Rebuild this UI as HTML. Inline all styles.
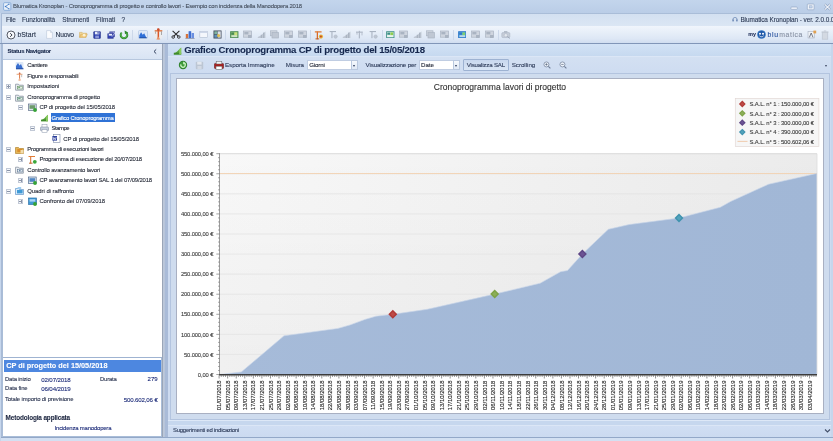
<!DOCTYPE html>
<html><head><meta charset="utf-8"><title>Blumatica Kronoplan</title>
<style>
html,body{margin:0;padding:0;width:833px;height:441px;overflow:hidden;background:#cbdaee}
body{font-family:"Liberation Sans",sans-serif;position:relative}
.r{position:absolute;display:block}
.i{filter:blur(0.35px)}
.t{position:absolute;white-space:nowrap;line-height:1.17;font-family:"Liberation Sans",sans-serif;-webkit-text-stroke-width:0.1px}
</style></head><body><div id="w" style="position:absolute;left:0;top:0;width:833px;height:441px;will-change:transform">
<div class="r" style="left:0.00px;top:0.00px;width:833.00px;height:441.00px;background:#cbdaee;"></div>
<div class="r" style="left:0.00px;top:0.00px;width:833.00px;height:13.00px;background:linear-gradient(#c3d5ec,#bacde7);"></div>
<div class="r" style="left:0.00px;top:13.00px;width:833.00px;height:13.00px;background:linear-gradient(#d3e0f1,#dbe6f4);border-top:1px solid #a9bdd8;box-sizing:border-box;"></div>
<div class="r" style="left:0.00px;top:26.00px;width:833.00px;height:17.00px;background:linear-gradient(#f0f5fc 0%,#e6eef8 40%,#dde7f5 75%,#d0ddf0 100%);"></div>
<div class="r" style="left:0.00px;top:43.00px;width:833.00px;height:398.00px;background:#c9d9ee;"></div>
<div class="t" style="left:13.00px;top:3px;font-size:5.94px;line-height:6px;color:#46505f;letter-spacing:-0.201px;">Blumatica Kronoplan - Cronoprogramma di progetto e controllo lavori - Esempio con incidenza della Manodopera 2018</div>
<div class="t" style="left:6.00px;top:16px;font-size:6.47px;line-height:7px;color:#2c3a55;letter-spacing:-0.206px;">File</div>
<div class="t" style="left:21.90px;top:16px;font-size:6.47px;line-height:7px;color:#2c3a55;letter-spacing:-0.149px;">Funzionalità</div>
<div class="t" style="left:62.30px;top:16px;font-size:6.47px;line-height:7px;color:#2c3a55;letter-spacing:-0.087px;">Strumenti</div>
<div class="t" style="left:96.00px;top:16px;font-size:6.47px;line-height:7px;color:#2c3a55;letter-spacing:0.050px;">Filmati</div>
<div class="t" style="left:121.50px;top:16px;font-size:6.47px;line-height:7px;color:#2c3a55;letter-spacing:-0.598px;">?</div>
<div class="t" style="left:740.40px;top:16px;font-size:6.40px;line-height:7px;color:#2c3a55;letter-spacing:-0.068px;">Blumatica Kronoplan - ver. 2.0.0.0</div>
<div class="t" style="left:17.40px;top:31px;font-size:6.89px;line-height:7px;color:#1f2c44;letter-spacing:0.036px;">bStart</div>
<div class="t" style="left:55.50px;top:31px;font-size:6.68px;line-height:7px;color:#1f2c44;letter-spacing:-0.182px;">Nuovo</div>
<div class="r" style="left:2.00px;top:43.00px;width:160.00px;height:394.00px;background:#dfe8f5;border:1px solid #a9bdd8;box-sizing:border-box;"></div>
<div class="r" style="left:3.00px;top:43.60px;width:158.80px;height:15.00px;background:linear-gradient(#e6edf8,#d9e4f4);"></div>
<div class="t" style="left:7.50px;top:48px;font-size:6.04px;line-height:6px;color:#1a2a4c;letter-spacing:-0.281px;font-weight:bold;">Status Navigator</div>
<svg class="r" style="left:152px;top:47.5px" width="6" height="7" viewBox="0 0 6 7"><path d="M4.2 1.4L2 3.5 4.2 5.6" stroke="#2f3d5c" stroke-width="1" fill="none"/></svg>
<div class="r" style="left:3.00px;top:58.60px;width:158.80px;height:299.40px;background:#ffffff;border-top:0.7px solid #b7c7de;border-bottom:1px solid #9fb3d1;box-sizing:border-box;"></div>
<div class="r" style="left:3.00px;top:358.00px;width:158.00px;height:78.00px;background:#ffffff;"></div>
<div class="r" style="left:4.00px;top:360.00px;width:156.60px;height:11.60px;background:#4d87e0;"></div>
<div class="t" style="left:6.20px;top:361px;font-size:7.31px;line-height:9px;color:#ffffff;font-weight:bold;">CP di progetto del 15/05/2018</div>
<div class="t" style="left:5.00px;top:376px;font-size:5.94px;line-height:6px;color:#2a3450;letter-spacing:-0.203px;">Data inizio</div>
<div class="t" style="left:41.20px;top:376px;font-size:6.15px;line-height:7px;color:#1b2a78;letter-spacing:-0.128px;">02/07/2018</div>
<div class="t" style="left:100.00px;top:376px;font-size:5.94px;line-height:6px;color:#2a3450;letter-spacing:-0.188px;">Durata</div>
<div class="t" style="left:147.62px;top:376px;font-size:6.04px;line-height:6px;color:#1b2a78;">279</div>
<div class="t" style="left:5.00px;top:385px;font-size:5.94px;line-height:6px;color:#2a3450;letter-spacing:-0.142px;">Data fine</div>
<div class="t" style="left:41.20px;top:385px;font-size:6.15px;line-height:7px;color:#1b2a78;letter-spacing:-0.128px;">06/04/2019</div>
<div class="t" style="left:5.00px;top:396px;font-size:5.94px;line-height:6px;color:#2a3450;letter-spacing:-0.140px;">Totale importo di previsione</div>
<div class="t" style="left:123.70px;top:396px;font-size:6.15px;line-height:7px;color:#1b2a78;letter-spacing:-0.159px;">500.602,06 €</div>
<div class="t" style="left:5.60px;top:414px;font-size:6.36px;line-height:7px;color:#1d2640;letter-spacing:-0.114px;font-weight:bold;">Metodologia applicata</div>
<div class="t" style="left:54.60px;top:425px;font-size:5.94px;line-height:6px;color:#1b2a78;letter-spacing:-0.187px;">Incidenza manodopera</div>
<svg class="r i" style="left:14.90px;top:61.10px" width="9" height="9" viewBox="0 0 9 9"><rect x="0.5" y="1" width="8" height="7" rx="1" fill="#dfe9f7"/><path d="M1 8V5l2-3 1.5 2.5L6 3l2 5z" fill="#3a6fd0"/><rect x="1" y="7.3" width="7.5" height="1" fill="#284f9e"/></svg>
<div class="t" style="left:27.30px;top:62px;font-size:5.94px;line-height:6px;color:#262b38;letter-spacing:-0.282px;">Cantiere</div>
<svg class="r i" style="left:14.90px;top:71.50px" width="9" height="9" viewBox="0 0 9 9"><rect x="4.1" y="0.8" width="1" height="7.6" fill="#dc7a48"/><rect x="1.6" y="1.8" width="5.8" height="0.9" fill="#e79a6a"/><circle cx="4.6" cy="1.3" r="0.9" fill="#cf6a4a"/><path d="M3 8.6l1.6-2.6 1.6 2.6z" fill="#efb898"/><rect x="6.5" y="2.6" width="0.6" height="2.6" fill="#9a9a9a"/></svg>
<div class="t" style="left:27.30px;top:73px;font-size:5.94px;line-height:6px;color:#262b38;letter-spacing:-0.188px;">Figure e responsabili</div>
<div class="r" style="left:6.10px;top:84.20px;width:5px;height:5px;border:0.7px solid #c2c9d6;box-sizing:border-box;background:#f6f8fb"></div>
<div class="r" style="left:7.20px;top:86.40px;width:2.8px;height:0.6px;background:#8a94a8"></div>
<div class="r" style="left:8.30px;top:85.30px;width:0.6px;height:2.8px;background:#8a94a8"></div>
<svg class="r i" style="left:14.90px;top:82.00px" width="9" height="9" viewBox="0 0 9 9"><path d="M0.6 2.2h2.8l0.9 1h4v5h-7.7z" fill="#f3f5f8" stroke="#6e7a8c" stroke-width="0.65"/><rect x="2.6" y="4.2" width="4.6" height="2.8" fill="#f7f9fb" stroke="#5d8a5a" stroke-width="0.6"/><rect x="3.2" y="4.8" width="2" height="1" fill="#5a9a58"/></svg>
<div class="t" style="left:27.30px;top:83px;font-size:5.94px;line-height:6px;color:#262b38;letter-spacing:-0.137px;">Impostazioni</div>
<div class="r" style="left:6.10px;top:94.70px;width:5px;height:5px;border:0.7px solid #c2c9d6;box-sizing:border-box;background:#f6f8fb"></div>
<div class="r" style="left:7.20px;top:96.90px;width:2.8px;height:0.6px;background:#8a94a8"></div>
<svg class="r i" style="left:14.90px;top:92.50px" width="9" height="9" viewBox="0 0 9 9"><path d="M0.6 2.2h2.8l0.9 1h4v5h-7.7z" fill="#f3f5f8" stroke="#6e7a8c" stroke-width="0.65"/><rect x="2.6" y="4.2" width="4.6" height="2.8" fill="#f7f9fb" stroke="#4f7f6a" stroke-width="0.6"/><rect x="3.2" y="4.8" width="2.4" height="1" fill="#4a8a66"/></svg>
<div class="t" style="left:27.30px;top:94px;font-size:5.94px;line-height:6px;color:#262b38;letter-spacing:-0.137px;">Cronoprogramma di progetto</div>
<div class="r" style="left:18.30px;top:105.20px;width:5px;height:5px;border:0.7px solid #c2c9d6;box-sizing:border-box;background:#f6f8fb"></div>
<div class="r" style="left:19.40px;top:107.40px;width:2.8px;height:0.6px;background:#8a94a8"></div>
<svg class="r i" style="left:27.70px;top:103.00px" width="9" height="9" viewBox="0 0 9 9"><rect x="0.6" y="1" width="7.6" height="6.4" fill="#dfe7ef" stroke="#5e7088" stroke-width="0.7"/><rect x="1.5" y="2.2" width="5.6" height="3.6" fill="#6e9a6c"/><circle cx="7" cy="7" r="1.9" fill="#35a335"/></svg>
<div class="t" style="left:39.40px;top:104px;font-size:5.94px;line-height:6px;color:#262b38;letter-spacing:-0.111px;">CP di progetto del 15/05/2018</div>
<svg class="r i" style="left:39.50px;top:113.40px" width="9" height="9" viewBox="-0.8 -1.2 10.6 10.6"><path d="M0.5 8.5h8V1L6 3.3 4.4 5 2.6 6.3 0.5 7.6z" fill="#5aa63c"/><path d="M0.5 8.5h8V6.5H0.5z" fill="#3f8a2c"/><path d="M6.3 2.8l2.2-2V8.5H6.3z" fill="#8acb5e"/></svg>
<div class="r" style="left:50.60px;top:113.20px;width:64.20px;height:9.20px;background:#2f72d6;"></div>
<div class="t" style="left:51.60px;top:115px;font-size:5.94px;line-height:6px;color:#ffffff;letter-spacing:-0.247px;">Grafico Cronoprogramma</div>
<div class="r" style="left:30.10px;top:126.20px;width:5px;height:5px;border:0.7px solid #c2c9d6;box-sizing:border-box;background:#f6f8fb"></div>
<div class="r" style="left:31.20px;top:128.40px;width:2.8px;height:0.6px;background:#8a94a8"></div>
<svg class="r i" style="left:39.50px;top:124.00px" width="9" height="9" viewBox="0 0 9 9"><rect x="2" y="0.6" width="5" height="3" fill="#fff" stroke="#8b97ab" stroke-width="0.5"/><rect x="0.5" y="3" width="8" height="3.8" rx="0.8" fill="#c7d1df" stroke="#75839b" stroke-width="0.5"/><rect x="2" y="5.6" width="5" height="2.8" fill="#fff" stroke="#8b97ab" stroke-width="0.5"/></svg>
<div class="t" style="left:51.60px;top:125px;font-size:5.94px;line-height:6px;color:#262b38;letter-spacing:-0.512px;">Stampe</div>
<svg class="r i" style="left:51.50px;top:134.30px" width="9" height="9" viewBox="0 0 9 9"><rect x="1.6" y="0.6" width="6.4" height="7.8" fill="#fff" stroke="#7a88a5" stroke-width="0.6"/><rect x="0.4" y="2" width="4.6" height="4.6" fill="#2b3f9c"/><path d="M1.1 3l0.7 2.8 0.8-2 0.8 2L4.2 3" stroke="#fff" stroke-width="0.6" fill="none"/></svg>
<div class="t" style="left:63.30px;top:136px;font-size:5.94px;line-height:6px;color:#262b38;letter-spacing:-0.108px;">CP di progetto del 15/05/2018</div>
<div class="r" style="left:6.10px;top:146.90px;width:5px;height:5px;border:0.7px solid #c2c9d6;box-sizing:border-box;background:#f6f8fb"></div>
<div class="r" style="left:7.20px;top:149.10px;width:2.8px;height:0.6px;background:#8a94a8"></div>
<svg class="r i" style="left:14.90px;top:144.70px" width="9" height="9" viewBox="0 0 9 9"><path d="M0.5 2.5h3l1 1h4v5h-8z" fill="#e6b657" stroke="#a97920" stroke-width="0.6"/><rect x="2.3" y="4" width="5" height="3" fill="#d98e2c"/><rect x="5.5" y="5" width="3" height="3.4" fill="#f2ddae"/></svg>
<div class="t" style="left:27.30px;top:146px;font-size:5.94px;line-height:6px;color:#262b38;letter-spacing:-0.222px;">Programma di esecuzioni lavori</div>
<div class="r" style="left:18.30px;top:157.20px;width:5px;height:5px;border:0.7px solid #c2c9d6;box-sizing:border-box;background:#f6f8fb"></div>
<div class="r" style="left:19.40px;top:159.40px;width:2.8px;height:0.6px;background:#8a94a8"></div>
<div class="r" style="left:20.50px;top:158.30px;width:0.6px;height:2.8px;background:#8a94a8"></div>
<svg class="r i" style="left:27.70px;top:155.00px" width="9" height="9" viewBox="0 0 9 9"><rect x="2.2" y="1.3" width="1" height="7.2" fill="#d86a28"/><rect x="0.5" y="1" width="6.5" height="1" fill="#e07b35"/><rect x="1" y="7.7" width="3.6" height="0.9" fill="#b85a20"/><circle cx="6.8" cy="6.8" r="1.9" fill="#3aa63a"/></svg>
<div class="t" style="left:39.40px;top:156px;font-size:5.94px;line-height:6px;color:#262b38;letter-spacing:-0.194px;">Programma di esecuzione del 20/07/2018</div>
<div class="r" style="left:6.10px;top:167.50px;width:5px;height:5px;border:0.7px solid #c2c9d6;box-sizing:border-box;background:#f6f8fb"></div>
<div class="r" style="left:7.20px;top:169.70px;width:2.8px;height:0.6px;background:#8a94a8"></div>
<svg class="r i" style="left:14.90px;top:165.30px" width="9" height="9" viewBox="0 0 9 9"><path d="M0.6 2.2h2.8l0.9 1h4v5h-7.7z" fill="#f3f5f8" stroke="#6e7a8c" stroke-width="0.65"/><rect x="2.6" y="4.2" width="4.6" height="2.8" fill="#eef3f8" stroke="#55708c" stroke-width="0.6"/><circle cx="4.8" cy="5.6" r="0.9" fill="#6a8aa8"/></svg>
<div class="t" style="left:27.30px;top:167px;font-size:5.94px;line-height:6px;color:#262b38;letter-spacing:-0.151px;">Controllo avanzamento lavori</div>
<div class="r" style="left:18.30px;top:177.90px;width:5px;height:5px;border:0.7px solid #c2c9d6;box-sizing:border-box;background:#f6f8fb"></div>
<div class="r" style="left:19.40px;top:180.10px;width:2.8px;height:0.6px;background:#8a94a8"></div>
<div class="r" style="left:20.50px;top:179.00px;width:0.6px;height:2.8px;background:#8a94a8"></div>
<svg class="r i" style="left:27.70px;top:175.70px" width="9" height="9" viewBox="0 0 9 9"><rect x="0.6" y="1" width="7.6" height="6.4" fill="#dfe7ef" stroke="#4d6a90" stroke-width="0.7"/><rect x="1.5" y="2.2" width="5.6" height="3.6" fill="#4f86c4"/><circle cx="7" cy="7" r="1.9" fill="#35a335"/></svg>
<div class="t" style="left:39.40px;top:177px;font-size:5.94px;line-height:6px;color:#262b38;letter-spacing:-0.173px;">CP avanzamento lavori SAL 1 del 07/09/2018</div>
<div class="r" style="left:6.10px;top:188.50px;width:5px;height:5px;border:0.7px solid #c2c9d6;box-sizing:border-box;background:#f6f8fb"></div>
<div class="r" style="left:7.20px;top:190.70px;width:2.8px;height:0.6px;background:#8a94a8"></div>
<svg class="r i" style="left:14.90px;top:186.30px" width="9" height="9" viewBox="0 0 9 9"><path d="M0.5 2.5h3l1 1h4v5h-8z" fill="#d9ebfa" stroke="#4a86c2" stroke-width="0.6"/><rect x="2" y="4" width="5.6" height="3.4" fill="#3f9ad6"/><rect x="2.6" y="1" width="3.6" height="2" fill="#9fcdf0"/></svg>
<div class="t" style="left:27.30px;top:188px;font-size:5.94px;line-height:6px;color:#262b38;letter-spacing:-0.056px;">Quadri di raffronto</div>
<div class="r" style="left:18.30px;top:198.90px;width:5px;height:5px;border:0.7px solid #c2c9d6;box-sizing:border-box;background:#f6f8fb"></div>
<div class="r" style="left:19.40px;top:201.10px;width:2.8px;height:0.6px;background:#8a94a8"></div>
<div class="r" style="left:20.50px;top:200.00px;width:0.6px;height:2.8px;background:#8a94a8"></div>
<svg class="r i" style="left:27.70px;top:196.70px" width="9" height="9" viewBox="0 0 9 9"><rect x="0.6" y="1" width="7.8" height="6.4" fill="#3f9ad6" stroke="#2a6fa8" stroke-width="0.7"/><rect x="1.6" y="2.2" width="5.6" height="2.4" fill="#a8d6f5"/><circle cx="7" cy="7" r="1.9" fill="#35a335"/></svg>
<div class="t" style="left:39.40px;top:198px;font-size:5.94px;line-height:6px;color:#262b38;letter-spacing:-0.060px;">Confronto del 07/09/2018</div>
<div class="r" style="left:161.80px;top:43.60px;width:6.20px;height:393.40px;background:linear-gradient(90deg,#9aa5b7 0%,#9aa5b7 17%,#bcc8da 22%,#bcc8da 40%,#a9bbd8 48%,#a9bbd8 100%);"></div>
<div class="r" style="left:168.00px;top:43.70px;width:665.00px;height:393.30px;background:#cddbf0;"></div>
<div class="r" style="left:168.00px;top:44.00px;width:665.00px;height:12.00px;background:linear-gradient(#d2e2f6,#c6d9f0);"></div>
<div class="r" style="left:168.00px;top:56.00px;width:665.00px;height:16.50px;background:linear-gradient(#d3e0f2,#cedcf1);border-top:0.6px solid #dbe6f6;box-sizing:border-box;"></div>
<svg class="r i" style="left:172.80px;top:46.10px" width="9" height="9" viewBox="-0.4 -0.8 9.8 9.8"><path d="M0.5 8.5h8V1L6 3.3 4.4 5 2.6 6.3 0.5 7.6z" fill="#5aa63c"/><path d="M0.5 8.5h8V6.5H0.5z" fill="#3f8a2c"/><path d="M6.3 2.8l2.2-2V8.5H6.3z" fill="#8acb5e"/></svg>
<div class="t" style="left:184.20px;top:44px;font-size:9.60px;line-height:11px;color:#16284e;letter-spacing:-0.239px;font-weight:bold;">Grafico Cronoprogramma CP di progetto del 15/05/2018</div>
<svg class="r i" style="left:178.30px;top:60.00px" width="10" height="10" viewBox="-5 -5 10 10"><circle r="4.2" fill="#2c7a2c"/><circle r="3.5" fill="#3f9a3a"/><path d="M-2.1 -0.6A2.2 2.2 0 1 0 1.2 -1.9" stroke="#c9f0c0" stroke-width="1.3" fill="none"/><path d="M0.2 -3.6L2.9 -1.7 0.1 -0.4z" fill="#c9f0c0"/></svg>
<svg class="r i" style="left:195.10px;top:60.50px" width="9" height="9" viewBox="0 0 9 9"><rect x="0.8" y="0.8" width="7.4" height="7.4" rx="0.8" fill="#bcc6d3"/><rect x="2.2" y="0.8" width="4.4" height="2.8" fill="#e3e8ef"/><rect x="2.4" y="5" width="4.2" height="3.2" fill="#d3dae4"/></svg>
<svg class="r i" style="left:213.50px;top:60.50px" width="10" height="9" viewBox="0 0 10 9"><rect x="0.5" y="2.4" width="9" height="5.2" rx="0.8" fill="#c42a2a" stroke="#5b1a1a" stroke-width="0.6"/><rect x="2.2" y="0.6" width="5.6" height="2.4" fill="#f3f3f3" stroke="#666" stroke-width="0.5"/><rect x="2" y="5.2" width="6" height="3.2" fill="#fff" stroke="#555" stroke-width="0.5"/><rect x="1" y="3.6" width="8" height="1" fill="#8b1a1a"/></svg>
<div class="t" style="left:225.00px;top:61px;font-size:6.25px;line-height:7px;color:#2c3a58;letter-spacing:-0.070px;">Esporta Immagine</div>
<div class="t" style="left:285.80px;top:61px;font-size:6.25px;line-height:7px;color:#2c3a58;letter-spacing:-0.126px;">Misura</div>
<div class="r" style="left:307.00px;top:60.30px;width:50.90px;height:10.00px;background:#ffffff;border:0.7px solid #c0cde2;box-sizing:border-box;"></div>
<div class="r" style="left:350.60px;top:60.30px;width:7.30px;height:10.00px;background:linear-gradient(#f6f9fd,#dfe8f5);border:0.7px solid #b9c8df;box-sizing:border-box;"></div>
<div class="r" style="left:352.65px;top:64.6px;width:0;height:0;border-left:1.6px solid transparent;border-right:1.6px solid transparent;border-top:2px solid #2c3a58"></div>
<div class="t" style="left:309.30px;top:61px;font-size:6.15px;line-height:7px;color:#1b2030;letter-spacing:-0.184px;">Giorni</div>
<div class="t" style="left:365.60px;top:61px;font-size:6.25px;line-height:7px;color:#2c3a58;letter-spacing:-0.165px;">Visualizzazione per</div>
<div class="r" style="left:418.80px;top:60.30px;width:41.00px;height:10.00px;background:#ffffff;border:0.7px solid #c0cde2;box-sizing:border-box;"></div>
<div class="r" style="left:452.60px;top:60.30px;width:7.20px;height:10.00px;background:linear-gradient(#f6f9fd,#dfe8f5);border:0.7px solid #b9c8df;box-sizing:border-box;"></div>
<div class="r" style="left:454.60px;top:64.6px;width:0;height:0;border-left:1.6px solid transparent;border-right:1.6px solid transparent;border-top:2px solid #2c3a58"></div>
<div class="t" style="left:421.00px;top:61px;font-size:6.15px;line-height:7px;color:#1b2030;">Date</div>
<div class="r" style="left:463.40px;top:59.20px;width:45.20px;height:11.80px;background:linear-gradient(#c9d8ee,#d9e5f5);border:0.8px solid #9db2d2;box-sizing:border-box;border-radius:1px;"></div>
<div class="t" style="left:466.70px;top:61px;font-size:6.15px;line-height:7px;color:#2c3a58;letter-spacing:-0.186px;">Visualizza SAL</div>
<div class="t" style="left:511.70px;top:61px;font-size:6.25px;line-height:7px;color:#2c3a58;letter-spacing:-0.041px;">Scrolling</div>
<svg class="r i" style="left:543.00px;top:61.10px" width="8.6" height="8.6" viewBox="0 0 10 10"><circle cx="4" cy="4" r="2.9" fill="#eef3fa" stroke="#6c7b93" stroke-width="0.8"/><path d="M6.2 6.2L8.6 8.6" stroke="#6c7b93" stroke-width="1.2"/><path d="M2.6 4h2.8" stroke="#4a5870" stroke-width="0.7"/><path d="M4 2.6v2.8" stroke="#4a5870" stroke-width="0.7"/></svg>
<svg class="r i" style="left:559.00px;top:61.10px" width="8.6" height="8.6" viewBox="0 0 10 10"><circle cx="4" cy="4" r="2.9" fill="#eef3fa" stroke="#6c7b93" stroke-width="0.8"/><path d="M6.2 6.2L8.6 8.6" stroke="#6c7b93" stroke-width="1.2"/><path d="M2.6 4h2.8" stroke="#4a5870" stroke-width="0.7"/></svg>
<div class="r" style="left:825px;top:64.6px;width:0;height:0;border-left:1.7px solid transparent;border-right:1.7px solid transparent;border-top:2px solid #3a4660"></div>
<div class="r" style="left:169.60px;top:72.50px;width:660.80px;height:347.80px;background:#cfdcee;border:1px solid #b3c4df;box-sizing:border-box;"></div>
<div class="r" style="left:176.00px;top:77.60px;width:648.40px;height:336.70px;background:#ffffff;border:0.8px solid #a9b0c2;box-sizing:border-box;"></div>
<div class="r" style="left:168.00px;top:420.30px;width:665.00px;height:4.70px;background:#c6d7ee;border-top:0.8px solid #dde8f7;box-sizing:border-box;"></div>
<div class="r" style="left:168.00px;top:425.00px;width:665.00px;height:12.00px;background:linear-gradient(#d0def3,#cbdaf0);border-top:0.8px solid #dbe6f6;box-sizing:border-box;"></div>
<div class="t" style="left:173.00px;top:427px;font-size:5.94px;line-height:6px;color:#2c3a58;letter-spacing:-0.246px;">Suggerimenti ed indicazioni</div>
<svg class="r" style="left:823.5px;top:427.6px" width="7" height="6" viewBox="0 0 7 6"><path d="M1 1.5L3.5 4 6 1.5" stroke="#44506a" stroke-width="1.1" fill="none"/></svg>
<div class="r" style="left:0.00px;top:437.00px;width:833.00px;height:4.00px;background:#d3e0f2;border-top:1px solid #93a8c8;box-sizing:border-box;"></div>
<div class="r" style="left:0.00px;top:13.00px;width:1.40px;height:428.00px;background:#c6d6ec;"></div>
<div class="r" style="left:1.30px;top:13.50px;width:0.90px;height:423.50px;background:#a9bbd6;"></div>
<div class="r" style="left:830.50px;top:43.00px;width:2.50px;height:394.00px;background:#c6d6ec;"></div>
<div class="r" style="left:0.00px;top:42.70px;width:833.00px;height:1.10px;background:#8196b8;"></div>
<svg class="r" style="left:0;top:0" width="833" height="441" viewBox="0 0 833 441"><defs><linearGradient id="pbg" x1="0" x2="1" y1="0" y2="0"><stop offset="0" stop-color="#f8f8f8"/><stop offset="1" stop-color="#ebebeb"/></linearGradient><linearGradient id="pv" x1="0" x2="0" y1="0" y2="1"><stop offset="0" stop-color="#000" stop-opacity="0"/><stop offset="1" stop-color="#000" stop-opacity="0.035"/></linearGradient><linearGradient id="ar" x1="0" x2="1" y1="0" y2="0"><stop offset="0" stop-color="#a6bbd9"/><stop offset="1" stop-color="#a1b7d6"/></linearGradient></defs><rect x="219.5" y="153.7" width="597.5" height="220.8" fill="url(#pbg)"/><rect x="219.5" y="153.7" width="597.5" height="220.8" fill="url(#pv)"/><line x1="219.5" x2="817.0" y1="153.70" y2="153.70" stroke="#d2d2d2" stroke-width="0.8"/><line x1="219.5" x2="817.0" y1="173.77" y2="173.77" stroke="#e3e3e3" stroke-width="0.8"/><line x1="219.5" x2="817.0" y1="193.85" y2="193.85" stroke="#e3e3e3" stroke-width="0.8"/><line x1="219.5" x2="817.0" y1="213.92" y2="213.92" stroke="#e3e3e3" stroke-width="0.8"/><line x1="219.5" x2="817.0" y1="233.99" y2="233.99" stroke="#e3e3e3" stroke-width="0.8"/><line x1="219.5" x2="817.0" y1="254.06" y2="254.06" stroke="#e3e3e3" stroke-width="0.8"/><line x1="219.5" x2="817.0" y1="274.14" y2="274.14" stroke="#e3e3e3" stroke-width="0.8"/><line x1="219.5" x2="817.0" y1="294.21" y2="294.21" stroke="#e3e3e3" stroke-width="0.8"/><line x1="219.5" x2="817.0" y1="314.28" y2="314.28" stroke="#e3e3e3" stroke-width="0.8"/><line x1="219.5" x2="817.0" y1="334.35" y2="334.35" stroke="#e3e3e3" stroke-width="0.8"/><line x1="219.5" x2="817.0" y1="354.43" y2="354.43" stroke="#e3e3e3" stroke-width="0.8"/><line x1="219.5" x2="817.0" y1="374.50" y2="374.50" stroke="#e3e3e3" stroke-width="0.8"/><line x1="817.0" x2="817.0" y1="153.7" y2="374.5" stroke="#dcdcdc" stroke-width="0.8"/><line x1="219.5" x2="817.0" y1="173.53" y2="173.53" stroke="#f3d0ae" stroke-width="0.85"/><polygon points="219.5,374.5 241.3,372.0 284.0,335.8 337.9,328.4 350.1,324.9 365.0,319.4 376.0,316.2 392.8,314.3 427.2,309.3 494.7,294.1 540.2,283.2 560.6,271.7 567.5,270.5 582.4,254.0 608.3,229.3 629.0,224.6 679.0,218.0 696.2,213.5 720.3,207.3 730.7,201.4 768.6,184.2 816.6,173.5 816.6,374.5 219.5,374.5" fill="url(#ar)"/><polyline points="219.5,374.5 241.3,372.0 284.0,335.8 337.9,328.4 350.1,324.9 365.0,319.4 376.0,316.2 392.8,314.3 427.2,309.3 494.7,294.1 540.2,283.2 560.6,271.7 567.5,270.5 582.4,254.0 608.3,229.3 629.0,224.6 679.0,218.0 696.2,213.5 720.3,207.3 730.7,201.4 768.6,184.2 816.6,173.5" fill="none" stroke="#c9d6e9" stroke-width="0.8" opacity="0.8"/><line x1="219.5" x2="219.5" y1="153.2" y2="374.5" stroke="#858585" stroke-width="0.8"/><line x1="219.0" x2="817.0" y1="374.8" y2="374.8" stroke="#3c3c3c" stroke-width="1.5"/><line x1="216.30" x2="219.5" y1="374.50" y2="374.50" stroke="#666" stroke-width="0.6"/><line x1="218.10" x2="219.5" y1="370.49" y2="370.49" stroke="#666" stroke-width="0.6"/><line x1="218.10" x2="219.5" y1="366.47" y2="366.47" stroke="#666" stroke-width="0.6"/><line x1="218.10" x2="219.5" y1="362.46" y2="362.46" stroke="#666" stroke-width="0.6"/><line x1="218.10" x2="219.5" y1="358.44" y2="358.44" stroke="#666" stroke-width="0.6"/><line x1="216.30" x2="219.5" y1="354.43" y2="354.43" stroke="#666" stroke-width="0.6"/><line x1="218.10" x2="219.5" y1="350.41" y2="350.41" stroke="#666" stroke-width="0.6"/><line x1="218.10" x2="219.5" y1="346.40" y2="346.40" stroke="#666" stroke-width="0.6"/><line x1="218.10" x2="219.5" y1="342.38" y2="342.38" stroke="#666" stroke-width="0.6"/><line x1="218.10" x2="219.5" y1="338.37" y2="338.37" stroke="#666" stroke-width="0.6"/><line x1="216.30" x2="219.5" y1="334.35" y2="334.35" stroke="#666" stroke-width="0.6"/><line x1="218.10" x2="219.5" y1="330.34" y2="330.34" stroke="#666" stroke-width="0.6"/><line x1="218.10" x2="219.5" y1="326.33" y2="326.33" stroke="#666" stroke-width="0.6"/><line x1="218.10" x2="219.5" y1="322.31" y2="322.31" stroke="#666" stroke-width="0.6"/><line x1="218.10" x2="219.5" y1="318.30" y2="318.30" stroke="#666" stroke-width="0.6"/><line x1="216.30" x2="219.5" y1="314.28" y2="314.28" stroke="#666" stroke-width="0.6"/><line x1="218.10" x2="219.5" y1="310.27" y2="310.27" stroke="#666" stroke-width="0.6"/><line x1="218.10" x2="219.5" y1="306.25" y2="306.25" stroke="#666" stroke-width="0.6"/><line x1="218.10" x2="219.5" y1="302.24" y2="302.24" stroke="#666" stroke-width="0.6"/><line x1="218.10" x2="219.5" y1="298.22" y2="298.22" stroke="#666" stroke-width="0.6"/><line x1="216.30" x2="219.5" y1="294.21" y2="294.21" stroke="#666" stroke-width="0.6"/><line x1="218.10" x2="219.5" y1="290.19" y2="290.19" stroke="#666" stroke-width="0.6"/><line x1="218.10" x2="219.5" y1="286.18" y2="286.18" stroke="#666" stroke-width="0.6"/><line x1="218.10" x2="219.5" y1="282.17" y2="282.17" stroke="#666" stroke-width="0.6"/><line x1="218.10" x2="219.5" y1="278.15" y2="278.15" stroke="#666" stroke-width="0.6"/><line x1="216.30" x2="219.5" y1="274.14" y2="274.14" stroke="#666" stroke-width="0.6"/><line x1="218.10" x2="219.5" y1="270.12" y2="270.12" stroke="#666" stroke-width="0.6"/><line x1="218.10" x2="219.5" y1="266.11" y2="266.11" stroke="#666" stroke-width="0.6"/><line x1="218.10" x2="219.5" y1="262.09" y2="262.09" stroke="#666" stroke-width="0.6"/><line x1="218.10" x2="219.5" y1="258.08" y2="258.08" stroke="#666" stroke-width="0.6"/><line x1="216.30" x2="219.5" y1="254.06" y2="254.06" stroke="#666" stroke-width="0.6"/><line x1="218.10" x2="219.5" y1="250.05" y2="250.05" stroke="#666" stroke-width="0.6"/><line x1="218.10" x2="219.5" y1="246.03" y2="246.03" stroke="#666" stroke-width="0.6"/><line x1="218.10" x2="219.5" y1="242.02" y2="242.02" stroke="#666" stroke-width="0.6"/><line x1="218.10" x2="219.5" y1="238.01" y2="238.01" stroke="#666" stroke-width="0.6"/><line x1="216.30" x2="219.5" y1="233.99" y2="233.99" stroke="#666" stroke-width="0.6"/><line x1="218.10" x2="219.5" y1="229.98" y2="229.98" stroke="#666" stroke-width="0.6"/><line x1="218.10" x2="219.5" y1="225.96" y2="225.96" stroke="#666" stroke-width="0.6"/><line x1="218.10" x2="219.5" y1="221.95" y2="221.95" stroke="#666" stroke-width="0.6"/><line x1="218.10" x2="219.5" y1="217.93" y2="217.93" stroke="#666" stroke-width="0.6"/><line x1="216.30" x2="219.5" y1="213.92" y2="213.92" stroke="#666" stroke-width="0.6"/><line x1="218.10" x2="219.5" y1="209.90" y2="209.90" stroke="#666" stroke-width="0.6"/><line x1="218.10" x2="219.5" y1="205.89" y2="205.89" stroke="#666" stroke-width="0.6"/><line x1="218.10" x2="219.5" y1="201.87" y2="201.87" stroke="#666" stroke-width="0.6"/><line x1="218.10" x2="219.5" y1="197.86" y2="197.86" stroke="#666" stroke-width="0.6"/><line x1="216.30" x2="219.5" y1="193.85" y2="193.85" stroke="#666" stroke-width="0.6"/><line x1="218.10" x2="219.5" y1="189.83" y2="189.83" stroke="#666" stroke-width="0.6"/><line x1="218.10" x2="219.5" y1="185.82" y2="185.82" stroke="#666" stroke-width="0.6"/><line x1="218.10" x2="219.5" y1="181.80" y2="181.80" stroke="#666" stroke-width="0.6"/><line x1="218.10" x2="219.5" y1="177.79" y2="177.79" stroke="#666" stroke-width="0.6"/><line x1="216.30" x2="219.5" y1="173.77" y2="173.77" stroke="#666" stroke-width="0.6"/><line x1="218.10" x2="219.5" y1="169.76" y2="169.76" stroke="#666" stroke-width="0.6"/><line x1="218.10" x2="219.5" y1="165.74" y2="165.74" stroke="#666" stroke-width="0.6"/><line x1="218.10" x2="219.5" y1="161.73" y2="161.73" stroke="#666" stroke-width="0.6"/><line x1="218.10" x2="219.5" y1="157.71" y2="157.71" stroke="#666" stroke-width="0.6"/><line x1="216.30" x2="219.5" y1="153.70" y2="153.70" stroke="#666" stroke-width="0.6"/><line x1="219.10" x2="219.10" y1="375.3" y2="378.50" stroke="#4a4a4a" stroke-width="0.6"/><line x1="221.24" x2="221.24" y1="375.3" y2="376.90" stroke="#4a4a4a" stroke-width="0.6"/><line x1="223.38" x2="223.38" y1="375.3" y2="376.90" stroke="#4a4a4a" stroke-width="0.6"/><line x1="225.52" x2="225.52" y1="375.3" y2="376.90" stroke="#4a4a4a" stroke-width="0.6"/><line x1="227.66" x2="227.66" y1="375.3" y2="378.50" stroke="#4a4a4a" stroke-width="0.6"/><line x1="229.80" x2="229.80" y1="375.3" y2="376.90" stroke="#4a4a4a" stroke-width="0.6"/><line x1="231.94" x2="231.94" y1="375.3" y2="376.90" stroke="#4a4a4a" stroke-width="0.6"/><line x1="234.08" x2="234.08" y1="375.3" y2="376.90" stroke="#4a4a4a" stroke-width="0.6"/><line x1="236.22" x2="236.22" y1="375.3" y2="378.50" stroke="#4a4a4a" stroke-width="0.6"/><line x1="238.36" x2="238.36" y1="375.3" y2="376.90" stroke="#4a4a4a" stroke-width="0.6"/><line x1="240.49" x2="240.49" y1="375.3" y2="376.90" stroke="#4a4a4a" stroke-width="0.6"/><line x1="242.63" x2="242.63" y1="375.3" y2="376.90" stroke="#4a4a4a" stroke-width="0.6"/><line x1="244.77" x2="244.77" y1="375.3" y2="378.50" stroke="#4a4a4a" stroke-width="0.6"/><line x1="246.91" x2="246.91" y1="375.3" y2="376.90" stroke="#4a4a4a" stroke-width="0.6"/><line x1="249.05" x2="249.05" y1="375.3" y2="376.90" stroke="#4a4a4a" stroke-width="0.6"/><line x1="251.19" x2="251.19" y1="375.3" y2="376.90" stroke="#4a4a4a" stroke-width="0.6"/><line x1="253.33" x2="253.33" y1="375.3" y2="378.50" stroke="#4a4a4a" stroke-width="0.6"/><line x1="255.47" x2="255.47" y1="375.3" y2="376.90" stroke="#4a4a4a" stroke-width="0.6"/><line x1="257.61" x2="257.61" y1="375.3" y2="376.90" stroke="#4a4a4a" stroke-width="0.6"/><line x1="259.75" x2="259.75" y1="375.3" y2="376.90" stroke="#4a4a4a" stroke-width="0.6"/><line x1="261.89" x2="261.89" y1="375.3" y2="378.50" stroke="#4a4a4a" stroke-width="0.6"/><line x1="264.03" x2="264.03" y1="375.3" y2="376.90" stroke="#4a4a4a" stroke-width="0.6"/><line x1="266.17" x2="266.17" y1="375.3" y2="376.90" stroke="#4a4a4a" stroke-width="0.6"/><line x1="268.31" x2="268.31" y1="375.3" y2="376.90" stroke="#4a4a4a" stroke-width="0.6"/><line x1="270.45" x2="270.45" y1="375.3" y2="378.50" stroke="#4a4a4a" stroke-width="0.6"/><line x1="272.59" x2="272.59" y1="375.3" y2="376.90" stroke="#4a4a4a" stroke-width="0.6"/><line x1="274.73" x2="274.73" y1="375.3" y2="376.90" stroke="#4a4a4a" stroke-width="0.6"/><line x1="276.87" x2="276.87" y1="375.3" y2="376.90" stroke="#4a4a4a" stroke-width="0.6"/><line x1="279.01" x2="279.01" y1="375.3" y2="378.50" stroke="#4a4a4a" stroke-width="0.6"/><line x1="281.15" x2="281.15" y1="375.3" y2="376.90" stroke="#4a4a4a" stroke-width="0.6"/><line x1="283.28" x2="283.28" y1="375.3" y2="376.90" stroke="#4a4a4a" stroke-width="0.6"/><line x1="285.42" x2="285.42" y1="375.3" y2="376.90" stroke="#4a4a4a" stroke-width="0.6"/><line x1="287.56" x2="287.56" y1="375.3" y2="378.50" stroke="#4a4a4a" stroke-width="0.6"/><line x1="289.70" x2="289.70" y1="375.3" y2="376.90" stroke="#4a4a4a" stroke-width="0.6"/><line x1="291.84" x2="291.84" y1="375.3" y2="376.90" stroke="#4a4a4a" stroke-width="0.6"/><line x1="293.98" x2="293.98" y1="375.3" y2="376.90" stroke="#4a4a4a" stroke-width="0.6"/><line x1="296.12" x2="296.12" y1="375.3" y2="378.50" stroke="#4a4a4a" stroke-width="0.6"/><line x1="298.26" x2="298.26" y1="375.3" y2="376.90" stroke="#4a4a4a" stroke-width="0.6"/><line x1="300.40" x2="300.40" y1="375.3" y2="376.90" stroke="#4a4a4a" stroke-width="0.6"/><line x1="302.54" x2="302.54" y1="375.3" y2="376.90" stroke="#4a4a4a" stroke-width="0.6"/><line x1="304.68" x2="304.68" y1="375.3" y2="378.50" stroke="#4a4a4a" stroke-width="0.6"/><line x1="306.82" x2="306.82" y1="375.3" y2="376.90" stroke="#4a4a4a" stroke-width="0.6"/><line x1="308.96" x2="308.96" y1="375.3" y2="376.90" stroke="#4a4a4a" stroke-width="0.6"/><line x1="311.10" x2="311.10" y1="375.3" y2="376.90" stroke="#4a4a4a" stroke-width="0.6"/><line x1="313.24" x2="313.24" y1="375.3" y2="378.50" stroke="#4a4a4a" stroke-width="0.6"/><line x1="315.38" x2="315.38" y1="375.3" y2="376.90" stroke="#4a4a4a" stroke-width="0.6"/><line x1="317.52" x2="317.52" y1="375.3" y2="376.90" stroke="#4a4a4a" stroke-width="0.6"/><line x1="319.66" x2="319.66" y1="375.3" y2="376.90" stroke="#4a4a4a" stroke-width="0.6"/><line x1="321.80" x2="321.80" y1="375.3" y2="378.50" stroke="#4a4a4a" stroke-width="0.6"/><line x1="323.94" x2="323.94" y1="375.3" y2="376.90" stroke="#4a4a4a" stroke-width="0.6"/><line x1="326.07" x2="326.07" y1="375.3" y2="376.90" stroke="#4a4a4a" stroke-width="0.6"/><line x1="328.21" x2="328.21" y1="375.3" y2="376.90" stroke="#4a4a4a" stroke-width="0.6"/><line x1="330.35" x2="330.35" y1="375.3" y2="378.50" stroke="#4a4a4a" stroke-width="0.6"/><line x1="332.49" x2="332.49" y1="375.3" y2="376.90" stroke="#4a4a4a" stroke-width="0.6"/><line x1="334.63" x2="334.63" y1="375.3" y2="376.90" stroke="#4a4a4a" stroke-width="0.6"/><line x1="336.77" x2="336.77" y1="375.3" y2="376.90" stroke="#4a4a4a" stroke-width="0.6"/><line x1="338.91" x2="338.91" y1="375.3" y2="378.50" stroke="#4a4a4a" stroke-width="0.6"/><line x1="341.05" x2="341.05" y1="375.3" y2="376.90" stroke="#4a4a4a" stroke-width="0.6"/><line x1="343.19" x2="343.19" y1="375.3" y2="376.90" stroke="#4a4a4a" stroke-width="0.6"/><line x1="345.33" x2="345.33" y1="375.3" y2="376.90" stroke="#4a4a4a" stroke-width="0.6"/><line x1="347.47" x2="347.47" y1="375.3" y2="378.50" stroke="#4a4a4a" stroke-width="0.6"/><line x1="349.61" x2="349.61" y1="375.3" y2="376.90" stroke="#4a4a4a" stroke-width="0.6"/><line x1="351.75" x2="351.75" y1="375.3" y2="376.90" stroke="#4a4a4a" stroke-width="0.6"/><line x1="353.89" x2="353.89" y1="375.3" y2="376.90" stroke="#4a4a4a" stroke-width="0.6"/><line x1="356.03" x2="356.03" y1="375.3" y2="378.50" stroke="#4a4a4a" stroke-width="0.6"/><line x1="358.17" x2="358.17" y1="375.3" y2="376.90" stroke="#4a4a4a" stroke-width="0.6"/><line x1="360.31" x2="360.31" y1="375.3" y2="376.90" stroke="#4a4a4a" stroke-width="0.6"/><line x1="362.45" x2="362.45" y1="375.3" y2="376.90" stroke="#4a4a4a" stroke-width="0.6"/><line x1="364.59" x2="364.59" y1="375.3" y2="378.50" stroke="#4a4a4a" stroke-width="0.6"/><line x1="366.73" x2="366.73" y1="375.3" y2="376.90" stroke="#4a4a4a" stroke-width="0.6"/><line x1="368.86" x2="368.86" y1="375.3" y2="376.90" stroke="#4a4a4a" stroke-width="0.6"/><line x1="371.00" x2="371.00" y1="375.3" y2="376.90" stroke="#4a4a4a" stroke-width="0.6"/><line x1="373.14" x2="373.14" y1="375.3" y2="378.50" stroke="#4a4a4a" stroke-width="0.6"/><line x1="375.28" x2="375.28" y1="375.3" y2="376.90" stroke="#4a4a4a" stroke-width="0.6"/><line x1="377.42" x2="377.42" y1="375.3" y2="376.90" stroke="#4a4a4a" stroke-width="0.6"/><line x1="379.56" x2="379.56" y1="375.3" y2="376.90" stroke="#4a4a4a" stroke-width="0.6"/><line x1="381.70" x2="381.70" y1="375.3" y2="378.50" stroke="#4a4a4a" stroke-width="0.6"/><line x1="383.84" x2="383.84" y1="375.3" y2="376.90" stroke="#4a4a4a" stroke-width="0.6"/><line x1="385.98" x2="385.98" y1="375.3" y2="376.90" stroke="#4a4a4a" stroke-width="0.6"/><line x1="388.12" x2="388.12" y1="375.3" y2="376.90" stroke="#4a4a4a" stroke-width="0.6"/><line x1="390.26" x2="390.26" y1="375.3" y2="378.50" stroke="#4a4a4a" stroke-width="0.6"/><line x1="392.40" x2="392.40" y1="375.3" y2="376.90" stroke="#4a4a4a" stroke-width="0.6"/><line x1="394.54" x2="394.54" y1="375.3" y2="376.90" stroke="#4a4a4a" stroke-width="0.6"/><line x1="396.68" x2="396.68" y1="375.3" y2="376.90" stroke="#4a4a4a" stroke-width="0.6"/><line x1="398.82" x2="398.82" y1="375.3" y2="378.50" stroke="#4a4a4a" stroke-width="0.6"/><line x1="400.96" x2="400.96" y1="375.3" y2="376.90" stroke="#4a4a4a" stroke-width="0.6"/><line x1="403.10" x2="403.10" y1="375.3" y2="376.90" stroke="#4a4a4a" stroke-width="0.6"/><line x1="405.24" x2="405.24" y1="375.3" y2="376.90" stroke="#4a4a4a" stroke-width="0.6"/><line x1="407.38" x2="407.38" y1="375.3" y2="378.50" stroke="#4a4a4a" stroke-width="0.6"/><line x1="409.51" x2="409.51" y1="375.3" y2="376.90" stroke="#4a4a4a" stroke-width="0.6"/><line x1="411.65" x2="411.65" y1="375.3" y2="376.90" stroke="#4a4a4a" stroke-width="0.6"/><line x1="413.79" x2="413.79" y1="375.3" y2="376.90" stroke="#4a4a4a" stroke-width="0.6"/><line x1="415.93" x2="415.93" y1="375.3" y2="378.50" stroke="#4a4a4a" stroke-width="0.6"/><line x1="418.07" x2="418.07" y1="375.3" y2="376.90" stroke="#4a4a4a" stroke-width="0.6"/><line x1="420.21" x2="420.21" y1="375.3" y2="376.90" stroke="#4a4a4a" stroke-width="0.6"/><line x1="422.35" x2="422.35" y1="375.3" y2="376.90" stroke="#4a4a4a" stroke-width="0.6"/><line x1="424.49" x2="424.49" y1="375.3" y2="378.50" stroke="#4a4a4a" stroke-width="0.6"/><line x1="426.63" x2="426.63" y1="375.3" y2="376.90" stroke="#4a4a4a" stroke-width="0.6"/><line x1="428.77" x2="428.77" y1="375.3" y2="376.90" stroke="#4a4a4a" stroke-width="0.6"/><line x1="430.91" x2="430.91" y1="375.3" y2="376.90" stroke="#4a4a4a" stroke-width="0.6"/><line x1="433.05" x2="433.05" y1="375.3" y2="378.50" stroke="#4a4a4a" stroke-width="0.6"/><line x1="435.19" x2="435.19" y1="375.3" y2="376.90" stroke="#4a4a4a" stroke-width="0.6"/><line x1="437.33" x2="437.33" y1="375.3" y2="376.90" stroke="#4a4a4a" stroke-width="0.6"/><line x1="439.47" x2="439.47" y1="375.3" y2="376.90" stroke="#4a4a4a" stroke-width="0.6"/><line x1="441.61" x2="441.61" y1="375.3" y2="378.50" stroke="#4a4a4a" stroke-width="0.6"/><line x1="443.75" x2="443.75" y1="375.3" y2="376.90" stroke="#4a4a4a" stroke-width="0.6"/><line x1="445.89" x2="445.89" y1="375.3" y2="376.90" stroke="#4a4a4a" stroke-width="0.6"/><line x1="448.03" x2="448.03" y1="375.3" y2="376.90" stroke="#4a4a4a" stroke-width="0.6"/><line x1="450.17" x2="450.17" y1="375.3" y2="378.50" stroke="#4a4a4a" stroke-width="0.6"/><line x1="452.30" x2="452.30" y1="375.3" y2="376.90" stroke="#4a4a4a" stroke-width="0.6"/><line x1="454.44" x2="454.44" y1="375.3" y2="376.90" stroke="#4a4a4a" stroke-width="0.6"/><line x1="456.58" x2="456.58" y1="375.3" y2="376.90" stroke="#4a4a4a" stroke-width="0.6"/><line x1="458.72" x2="458.72" y1="375.3" y2="378.50" stroke="#4a4a4a" stroke-width="0.6"/><line x1="460.86" x2="460.86" y1="375.3" y2="376.90" stroke="#4a4a4a" stroke-width="0.6"/><line x1="463.00" x2="463.00" y1="375.3" y2="376.90" stroke="#4a4a4a" stroke-width="0.6"/><line x1="465.14" x2="465.14" y1="375.3" y2="376.90" stroke="#4a4a4a" stroke-width="0.6"/><line x1="467.28" x2="467.28" y1="375.3" y2="378.50" stroke="#4a4a4a" stroke-width="0.6"/><line x1="469.42" x2="469.42" y1="375.3" y2="376.90" stroke="#4a4a4a" stroke-width="0.6"/><line x1="471.56" x2="471.56" y1="375.3" y2="376.90" stroke="#4a4a4a" stroke-width="0.6"/><line x1="473.70" x2="473.70" y1="375.3" y2="376.90" stroke="#4a4a4a" stroke-width="0.6"/><line x1="475.84" x2="475.84" y1="375.3" y2="378.50" stroke="#4a4a4a" stroke-width="0.6"/><line x1="477.98" x2="477.98" y1="375.3" y2="376.90" stroke="#4a4a4a" stroke-width="0.6"/><line x1="480.12" x2="480.12" y1="375.3" y2="376.90" stroke="#4a4a4a" stroke-width="0.6"/><line x1="482.26" x2="482.26" y1="375.3" y2="376.90" stroke="#4a4a4a" stroke-width="0.6"/><line x1="484.40" x2="484.40" y1="375.3" y2="378.50" stroke="#4a4a4a" stroke-width="0.6"/><line x1="486.54" x2="486.54" y1="375.3" y2="376.90" stroke="#4a4a4a" stroke-width="0.6"/><line x1="488.68" x2="488.68" y1="375.3" y2="376.90" stroke="#4a4a4a" stroke-width="0.6"/><line x1="490.82" x2="490.82" y1="375.3" y2="376.90" stroke="#4a4a4a" stroke-width="0.6"/><line x1="492.96" x2="492.96" y1="375.3" y2="378.50" stroke="#4a4a4a" stroke-width="0.6"/><line x1="495.09" x2="495.09" y1="375.3" y2="376.90" stroke="#4a4a4a" stroke-width="0.6"/><line x1="497.23" x2="497.23" y1="375.3" y2="376.90" stroke="#4a4a4a" stroke-width="0.6"/><line x1="499.37" x2="499.37" y1="375.3" y2="376.90" stroke="#4a4a4a" stroke-width="0.6"/><line x1="501.51" x2="501.51" y1="375.3" y2="378.50" stroke="#4a4a4a" stroke-width="0.6"/><line x1="503.65" x2="503.65" y1="375.3" y2="376.90" stroke="#4a4a4a" stroke-width="0.6"/><line x1="505.79" x2="505.79" y1="375.3" y2="376.90" stroke="#4a4a4a" stroke-width="0.6"/><line x1="507.93" x2="507.93" y1="375.3" y2="376.90" stroke="#4a4a4a" stroke-width="0.6"/><line x1="510.07" x2="510.07" y1="375.3" y2="378.50" stroke="#4a4a4a" stroke-width="0.6"/><line x1="512.21" x2="512.21" y1="375.3" y2="376.90" stroke="#4a4a4a" stroke-width="0.6"/><line x1="514.35" x2="514.35" y1="375.3" y2="376.90" stroke="#4a4a4a" stroke-width="0.6"/><line x1="516.49" x2="516.49" y1="375.3" y2="376.90" stroke="#4a4a4a" stroke-width="0.6"/><line x1="518.63" x2="518.63" y1="375.3" y2="378.50" stroke="#4a4a4a" stroke-width="0.6"/><line x1="520.77" x2="520.77" y1="375.3" y2="376.90" stroke="#4a4a4a" stroke-width="0.6"/><line x1="522.91" x2="522.91" y1="375.3" y2="376.90" stroke="#4a4a4a" stroke-width="0.6"/><line x1="525.05" x2="525.05" y1="375.3" y2="376.90" stroke="#4a4a4a" stroke-width="0.6"/><line x1="527.19" x2="527.19" y1="375.3" y2="378.50" stroke="#4a4a4a" stroke-width="0.6"/><line x1="529.33" x2="529.33" y1="375.3" y2="376.90" stroke="#4a4a4a" stroke-width="0.6"/><line x1="531.47" x2="531.47" y1="375.3" y2="376.90" stroke="#4a4a4a" stroke-width="0.6"/><line x1="533.61" x2="533.61" y1="375.3" y2="376.90" stroke="#4a4a4a" stroke-width="0.6"/><line x1="535.74" x2="535.74" y1="375.3" y2="378.50" stroke="#4a4a4a" stroke-width="0.6"/><line x1="537.88" x2="537.88" y1="375.3" y2="376.90" stroke="#4a4a4a" stroke-width="0.6"/><line x1="540.02" x2="540.02" y1="375.3" y2="376.90" stroke="#4a4a4a" stroke-width="0.6"/><line x1="542.16" x2="542.16" y1="375.3" y2="376.90" stroke="#4a4a4a" stroke-width="0.6"/><line x1="544.30" x2="544.30" y1="375.3" y2="378.50" stroke="#4a4a4a" stroke-width="0.6"/><line x1="546.44" x2="546.44" y1="375.3" y2="376.90" stroke="#4a4a4a" stroke-width="0.6"/><line x1="548.58" x2="548.58" y1="375.3" y2="376.90" stroke="#4a4a4a" stroke-width="0.6"/><line x1="550.72" x2="550.72" y1="375.3" y2="376.90" stroke="#4a4a4a" stroke-width="0.6"/><line x1="552.86" x2="552.86" y1="375.3" y2="378.50" stroke="#4a4a4a" stroke-width="0.6"/><line x1="555.00" x2="555.00" y1="375.3" y2="376.90" stroke="#4a4a4a" stroke-width="0.6"/><line x1="557.14" x2="557.14" y1="375.3" y2="376.90" stroke="#4a4a4a" stroke-width="0.6"/><line x1="559.28" x2="559.28" y1="375.3" y2="376.90" stroke="#4a4a4a" stroke-width="0.6"/><line x1="561.42" x2="561.42" y1="375.3" y2="378.50" stroke="#4a4a4a" stroke-width="0.6"/><line x1="563.56" x2="563.56" y1="375.3" y2="376.90" stroke="#4a4a4a" stroke-width="0.6"/><line x1="565.70" x2="565.70" y1="375.3" y2="376.90" stroke="#4a4a4a" stroke-width="0.6"/><line x1="567.84" x2="567.84" y1="375.3" y2="376.90" stroke="#4a4a4a" stroke-width="0.6"/><line x1="569.98" x2="569.98" y1="375.3" y2="378.50" stroke="#4a4a4a" stroke-width="0.6"/><line x1="572.12" x2="572.12" y1="375.3" y2="376.90" stroke="#4a4a4a" stroke-width="0.6"/><line x1="574.26" x2="574.26" y1="375.3" y2="376.90" stroke="#4a4a4a" stroke-width="0.6"/><line x1="576.40" x2="576.40" y1="375.3" y2="376.90" stroke="#4a4a4a" stroke-width="0.6"/><line x1="578.53" x2="578.53" y1="375.3" y2="378.50" stroke="#4a4a4a" stroke-width="0.6"/><line x1="580.67" x2="580.67" y1="375.3" y2="376.90" stroke="#4a4a4a" stroke-width="0.6"/><line x1="582.81" x2="582.81" y1="375.3" y2="376.90" stroke="#4a4a4a" stroke-width="0.6"/><line x1="584.95" x2="584.95" y1="375.3" y2="376.90" stroke="#4a4a4a" stroke-width="0.6"/><line x1="587.09" x2="587.09" y1="375.3" y2="378.50" stroke="#4a4a4a" stroke-width="0.6"/><line x1="589.23" x2="589.23" y1="375.3" y2="376.90" stroke="#4a4a4a" stroke-width="0.6"/><line x1="591.37" x2="591.37" y1="375.3" y2="376.90" stroke="#4a4a4a" stroke-width="0.6"/><line x1="593.51" x2="593.51" y1="375.3" y2="376.90" stroke="#4a4a4a" stroke-width="0.6"/><line x1="595.65" x2="595.65" y1="375.3" y2="378.50" stroke="#4a4a4a" stroke-width="0.6"/><line x1="597.79" x2="597.79" y1="375.3" y2="376.90" stroke="#4a4a4a" stroke-width="0.6"/><line x1="599.93" x2="599.93" y1="375.3" y2="376.90" stroke="#4a4a4a" stroke-width="0.6"/><line x1="602.07" x2="602.07" y1="375.3" y2="376.90" stroke="#4a4a4a" stroke-width="0.6"/><line x1="604.21" x2="604.21" y1="375.3" y2="378.50" stroke="#4a4a4a" stroke-width="0.6"/><line x1="606.35" x2="606.35" y1="375.3" y2="376.90" stroke="#4a4a4a" stroke-width="0.6"/><line x1="608.49" x2="608.49" y1="375.3" y2="376.90" stroke="#4a4a4a" stroke-width="0.6"/><line x1="610.63" x2="610.63" y1="375.3" y2="376.90" stroke="#4a4a4a" stroke-width="0.6"/><line x1="612.77" x2="612.77" y1="375.3" y2="378.50" stroke="#4a4a4a" stroke-width="0.6"/><line x1="614.91" x2="614.91" y1="375.3" y2="376.90" stroke="#4a4a4a" stroke-width="0.6"/><line x1="617.05" x2="617.05" y1="375.3" y2="376.90" stroke="#4a4a4a" stroke-width="0.6"/><line x1="619.19" x2="619.19" y1="375.3" y2="376.90" stroke="#4a4a4a" stroke-width="0.6"/><line x1="621.32" x2="621.32" y1="375.3" y2="378.50" stroke="#4a4a4a" stroke-width="0.6"/><line x1="623.46" x2="623.46" y1="375.3" y2="376.90" stroke="#4a4a4a" stroke-width="0.6"/><line x1="625.60" x2="625.60" y1="375.3" y2="376.90" stroke="#4a4a4a" stroke-width="0.6"/><line x1="627.74" x2="627.74" y1="375.3" y2="376.90" stroke="#4a4a4a" stroke-width="0.6"/><line x1="629.88" x2="629.88" y1="375.3" y2="378.50" stroke="#4a4a4a" stroke-width="0.6"/><line x1="632.02" x2="632.02" y1="375.3" y2="376.90" stroke="#4a4a4a" stroke-width="0.6"/><line x1="634.16" x2="634.16" y1="375.3" y2="376.90" stroke="#4a4a4a" stroke-width="0.6"/><line x1="636.30" x2="636.30" y1="375.3" y2="376.90" stroke="#4a4a4a" stroke-width="0.6"/><line x1="638.44" x2="638.44" y1="375.3" y2="378.50" stroke="#4a4a4a" stroke-width="0.6"/><line x1="640.58" x2="640.58" y1="375.3" y2="376.90" stroke="#4a4a4a" stroke-width="0.6"/><line x1="642.72" x2="642.72" y1="375.3" y2="376.90" stroke="#4a4a4a" stroke-width="0.6"/><line x1="644.86" x2="644.86" y1="375.3" y2="376.90" stroke="#4a4a4a" stroke-width="0.6"/><line x1="647.00" x2="647.00" y1="375.3" y2="378.50" stroke="#4a4a4a" stroke-width="0.6"/><line x1="649.14" x2="649.14" y1="375.3" y2="376.90" stroke="#4a4a4a" stroke-width="0.6"/><line x1="651.28" x2="651.28" y1="375.3" y2="376.90" stroke="#4a4a4a" stroke-width="0.6"/><line x1="653.42" x2="653.42" y1="375.3" y2="376.90" stroke="#4a4a4a" stroke-width="0.6"/><line x1="655.56" x2="655.56" y1="375.3" y2="378.50" stroke="#4a4a4a" stroke-width="0.6"/><line x1="657.70" x2="657.70" y1="375.3" y2="376.90" stroke="#4a4a4a" stroke-width="0.6"/><line x1="659.84" x2="659.84" y1="375.3" y2="376.90" stroke="#4a4a4a" stroke-width="0.6"/><line x1="661.98" x2="661.98" y1="375.3" y2="376.90" stroke="#4a4a4a" stroke-width="0.6"/><line x1="664.11" x2="664.11" y1="375.3" y2="378.50" stroke="#4a4a4a" stroke-width="0.6"/><line x1="666.25" x2="666.25" y1="375.3" y2="376.90" stroke="#4a4a4a" stroke-width="0.6"/><line x1="668.39" x2="668.39" y1="375.3" y2="376.90" stroke="#4a4a4a" stroke-width="0.6"/><line x1="670.53" x2="670.53" y1="375.3" y2="376.90" stroke="#4a4a4a" stroke-width="0.6"/><line x1="672.67" x2="672.67" y1="375.3" y2="378.50" stroke="#4a4a4a" stroke-width="0.6"/><line x1="674.81" x2="674.81" y1="375.3" y2="376.90" stroke="#4a4a4a" stroke-width="0.6"/><line x1="676.95" x2="676.95" y1="375.3" y2="376.90" stroke="#4a4a4a" stroke-width="0.6"/><line x1="679.09" x2="679.09" y1="375.3" y2="376.90" stroke="#4a4a4a" stroke-width="0.6"/><line x1="681.23" x2="681.23" y1="375.3" y2="378.50" stroke="#4a4a4a" stroke-width="0.6"/><line x1="683.37" x2="683.37" y1="375.3" y2="376.90" stroke="#4a4a4a" stroke-width="0.6"/><line x1="685.51" x2="685.51" y1="375.3" y2="376.90" stroke="#4a4a4a" stroke-width="0.6"/><line x1="687.65" x2="687.65" y1="375.3" y2="376.90" stroke="#4a4a4a" stroke-width="0.6"/><line x1="689.79" x2="689.79" y1="375.3" y2="378.50" stroke="#4a4a4a" stroke-width="0.6"/><line x1="691.93" x2="691.93" y1="375.3" y2="376.90" stroke="#4a4a4a" stroke-width="0.6"/><line x1="694.07" x2="694.07" y1="375.3" y2="376.90" stroke="#4a4a4a" stroke-width="0.6"/><line x1="696.21" x2="696.21" y1="375.3" y2="376.90" stroke="#4a4a4a" stroke-width="0.6"/><line x1="698.35" x2="698.35" y1="375.3" y2="378.50" stroke="#4a4a4a" stroke-width="0.6"/><line x1="700.49" x2="700.49" y1="375.3" y2="376.90" stroke="#4a4a4a" stroke-width="0.6"/><line x1="702.63" x2="702.63" y1="375.3" y2="376.90" stroke="#4a4a4a" stroke-width="0.6"/><line x1="704.76" x2="704.76" y1="375.3" y2="376.90" stroke="#4a4a4a" stroke-width="0.6"/><line x1="706.90" x2="706.90" y1="375.3" y2="378.50" stroke="#4a4a4a" stroke-width="0.6"/><line x1="709.04" x2="709.04" y1="375.3" y2="376.90" stroke="#4a4a4a" stroke-width="0.6"/><line x1="711.18" x2="711.18" y1="375.3" y2="376.90" stroke="#4a4a4a" stroke-width="0.6"/><line x1="713.32" x2="713.32" y1="375.3" y2="376.90" stroke="#4a4a4a" stroke-width="0.6"/><line x1="715.46" x2="715.46" y1="375.3" y2="378.50" stroke="#4a4a4a" stroke-width="0.6"/><line x1="717.60" x2="717.60" y1="375.3" y2="376.90" stroke="#4a4a4a" stroke-width="0.6"/><line x1="719.74" x2="719.74" y1="375.3" y2="376.90" stroke="#4a4a4a" stroke-width="0.6"/><line x1="721.88" x2="721.88" y1="375.3" y2="376.90" stroke="#4a4a4a" stroke-width="0.6"/><line x1="724.02" x2="724.02" y1="375.3" y2="378.50" stroke="#4a4a4a" stroke-width="0.6"/><line x1="726.16" x2="726.16" y1="375.3" y2="376.90" stroke="#4a4a4a" stroke-width="0.6"/><line x1="728.30" x2="728.30" y1="375.3" y2="376.90" stroke="#4a4a4a" stroke-width="0.6"/><line x1="730.44" x2="730.44" y1="375.3" y2="376.90" stroke="#4a4a4a" stroke-width="0.6"/><line x1="732.58" x2="732.58" y1="375.3" y2="378.50" stroke="#4a4a4a" stroke-width="0.6"/><line x1="734.72" x2="734.72" y1="375.3" y2="376.90" stroke="#4a4a4a" stroke-width="0.6"/><line x1="736.86" x2="736.86" y1="375.3" y2="376.90" stroke="#4a4a4a" stroke-width="0.6"/><line x1="739.00" x2="739.00" y1="375.3" y2="376.90" stroke="#4a4a4a" stroke-width="0.6"/><line x1="741.14" x2="741.14" y1="375.3" y2="378.50" stroke="#4a4a4a" stroke-width="0.6"/><line x1="743.28" x2="743.28" y1="375.3" y2="376.90" stroke="#4a4a4a" stroke-width="0.6"/><line x1="745.42" x2="745.42" y1="375.3" y2="376.90" stroke="#4a4a4a" stroke-width="0.6"/><line x1="747.55" x2="747.55" y1="375.3" y2="376.90" stroke="#4a4a4a" stroke-width="0.6"/><line x1="749.69" x2="749.69" y1="375.3" y2="378.50" stroke="#4a4a4a" stroke-width="0.6"/><line x1="751.83" x2="751.83" y1="375.3" y2="376.90" stroke="#4a4a4a" stroke-width="0.6"/><line x1="753.97" x2="753.97" y1="375.3" y2="376.90" stroke="#4a4a4a" stroke-width="0.6"/><line x1="756.11" x2="756.11" y1="375.3" y2="376.90" stroke="#4a4a4a" stroke-width="0.6"/><line x1="758.25" x2="758.25" y1="375.3" y2="378.50" stroke="#4a4a4a" stroke-width="0.6"/><line x1="760.39" x2="760.39" y1="375.3" y2="376.90" stroke="#4a4a4a" stroke-width="0.6"/><line x1="762.53" x2="762.53" y1="375.3" y2="376.90" stroke="#4a4a4a" stroke-width="0.6"/><line x1="764.67" x2="764.67" y1="375.3" y2="376.90" stroke="#4a4a4a" stroke-width="0.6"/><line x1="766.81" x2="766.81" y1="375.3" y2="378.50" stroke="#4a4a4a" stroke-width="0.6"/><line x1="768.95" x2="768.95" y1="375.3" y2="376.90" stroke="#4a4a4a" stroke-width="0.6"/><line x1="771.09" x2="771.09" y1="375.3" y2="376.90" stroke="#4a4a4a" stroke-width="0.6"/><line x1="773.23" x2="773.23" y1="375.3" y2="376.90" stroke="#4a4a4a" stroke-width="0.6"/><line x1="775.37" x2="775.37" y1="375.3" y2="378.50" stroke="#4a4a4a" stroke-width="0.6"/><line x1="777.51" x2="777.51" y1="375.3" y2="376.90" stroke="#4a4a4a" stroke-width="0.6"/><line x1="779.65" x2="779.65" y1="375.3" y2="376.90" stroke="#4a4a4a" stroke-width="0.6"/><line x1="781.79" x2="781.79" y1="375.3" y2="376.90" stroke="#4a4a4a" stroke-width="0.6"/><line x1="783.93" x2="783.93" y1="375.3" y2="378.50" stroke="#4a4a4a" stroke-width="0.6"/><line x1="786.07" x2="786.07" y1="375.3" y2="376.90" stroke="#4a4a4a" stroke-width="0.6"/><line x1="788.21" x2="788.21" y1="375.3" y2="376.90" stroke="#4a4a4a" stroke-width="0.6"/><line x1="790.34" x2="790.34" y1="375.3" y2="376.90" stroke="#4a4a4a" stroke-width="0.6"/><line x1="792.48" x2="792.48" y1="375.3" y2="378.50" stroke="#4a4a4a" stroke-width="0.6"/><line x1="794.62" x2="794.62" y1="375.3" y2="376.90" stroke="#4a4a4a" stroke-width="0.6"/><line x1="796.76" x2="796.76" y1="375.3" y2="376.90" stroke="#4a4a4a" stroke-width="0.6"/><line x1="798.90" x2="798.90" y1="375.3" y2="376.90" stroke="#4a4a4a" stroke-width="0.6"/><line x1="801.04" x2="801.04" y1="375.3" y2="378.50" stroke="#4a4a4a" stroke-width="0.6"/><line x1="803.18" x2="803.18" y1="375.3" y2="376.90" stroke="#4a4a4a" stroke-width="0.6"/><line x1="805.32" x2="805.32" y1="375.3" y2="376.90" stroke="#4a4a4a" stroke-width="0.6"/><line x1="807.46" x2="807.46" y1="375.3" y2="376.90" stroke="#4a4a4a" stroke-width="0.6"/><line x1="809.60" x2="809.60" y1="375.3" y2="378.50" stroke="#4a4a4a" stroke-width="0.6"/><line x1="811.74" x2="811.74" y1="375.3" y2="376.90" stroke="#4a4a4a" stroke-width="0.6"/><line x1="813.88" x2="813.88" y1="375.3" y2="376.90" stroke="#4a4a4a" stroke-width="0.6"/><line x1="816.02" x2="816.02" y1="375.3" y2="376.90" stroke="#4a4a4a" stroke-width="0.6"/><polygon points="388.3,314.3 392.8,309.8 397.3,314.3 392.8,318.8" fill="#b13a37"/><polygon points="390.325,314.3 392.8,311.825 395.27500000000003,314.3 392.8,316.77500000000003" fill="#c85a55" opacity="0.55"/><polygon points="490.2,294.1 494.7,289.6 499.2,294.1 494.7,298.6" fill="#7ea347"/><polygon points="492.22499999999997,294.1 494.7,291.625 497.175,294.1 494.7,296.57500000000005" fill="#97b866" opacity="0.55"/><polygon points="577.9,254.0 582.4,249.5 586.9,254.0 582.4,258.5" fill="#5e4685"/><polygon points="579.925,254.0 582.4,251.525 584.875,254.0 582.4,256.475" fill="#775fa0" opacity="0.55"/><polygon points="674.5,218 679,213.5 683.5,218 679,222.5" fill="#3f92ae"/><polygon points="676.525,218 679,215.525 681.475,218 679,220.475" fill="#63aec6" opacity="0.55"/><rect x="735.3" y="98.4" width="83.6" height="48.2" fill="#f6f6f6" stroke="#e3d9d6" stroke-width="0.7"/><polygon points="738.9,104.0 742.3,100.6 745.6999999999999,104.0 742.3,107.4" fill="#b13a37"/><polygon points="740.43,104.0 742.3,102.13 744.17,104.0 742.3,105.87" fill="#c85a55" opacity="0.55"/><polygon points="738.9,113.35 742.3,109.94999999999999 745.6999999999999,113.35 742.3,116.75" fill="#7ea347"/><polygon points="740.43,113.35 742.3,111.47999999999999 744.17,113.35 742.3,115.22" fill="#97b866" opacity="0.55"/><polygon points="738.9,122.7 742.3,119.3 745.6999999999999,122.7 742.3,126.10000000000001" fill="#5e4685"/><polygon points="740.43,122.7 742.3,120.83 744.17,122.7 742.3,124.57000000000001" fill="#775fa0" opacity="0.55"/><polygon points="738.9,132.05 742.3,128.65 745.6999999999999,132.05 742.3,135.45000000000002" fill="#3f92ae"/><polygon points="740.43,132.05 742.3,130.18 744.17,132.05 742.3,133.92000000000002" fill="#63aec6" opacity="0.55"/><line x1="737.5" x2="747.5" y1="141.4" y2="141.4" stroke="#ecc09c" stroke-width="0.8"/></svg>
<div class="t" style="left:749.50px;top:101px;font-size:5.90px;line-height:6px;color:#3a3a3a;letter-spacing:-0.121px;">S.A.L. n° 1 : 150.000,00 €</div>
<div class="t" style="left:749.50px;top:111px;font-size:5.90px;line-height:6px;color:#3a3a3a;letter-spacing:-0.121px;">S.A.L. n° 2 : 200.000,00 €</div>
<div class="t" style="left:749.50px;top:120px;font-size:5.90px;line-height:6px;color:#3a3a3a;letter-spacing:-0.121px;">S.A.L. n° 3 : 300.000,00 €</div>
<div class="t" style="left:749.50px;top:129px;font-size:5.90px;line-height:6px;color:#3a3a3a;letter-spacing:-0.121px;">S.A.L. n° 4 : 390.000,00 €</div>
<div class="t" style="left:749.50px;top:139px;font-size:5.90px;line-height:6px;color:#3a3a3a;letter-spacing:-0.121px;">S.A.L. n° 5 : 500.602,06 €</div>
<div class="t" style="left:433.80px;top:82px;font-size:8.54px;line-height:10px;color:#2e2e2e;">Cronoprogramma lavori di progetto</div>
<div class="t" style="left:197.87px;top:372px;font-size:5.85px;line-height:6px;color:#3a3a3a;letter-spacing:-0.139px;">0,00 €</div>
<div class="t" style="left:183.98px;top:352px;font-size:5.85px;line-height:6px;color:#3a3a3a;letter-spacing:-0.144px;">50.000,00 €</div>
<div class="t" style="left:180.89px;top:332px;font-size:5.85px;line-height:6px;color:#3a3a3a;letter-spacing:-0.146px;">100.000,00 €</div>
<div class="t" style="left:180.89px;top:311px;font-size:5.85px;line-height:6px;color:#3a3a3a;letter-spacing:-0.146px;">150.000,00 €</div>
<div class="t" style="left:180.89px;top:291px;font-size:5.85px;line-height:6px;color:#3a3a3a;letter-spacing:-0.146px;">200.000,00 €</div>
<div class="t" style="left:180.89px;top:271px;font-size:5.85px;line-height:6px;color:#3a3a3a;letter-spacing:-0.146px;">250.000,00 €</div>
<div class="t" style="left:180.89px;top:251px;font-size:5.85px;line-height:6px;color:#3a3a3a;letter-spacing:-0.146px;">300.000,00 €</div>
<div class="t" style="left:180.89px;top:231px;font-size:5.85px;line-height:6px;color:#3a3a3a;letter-spacing:-0.146px;">350.000,00 €</div>
<div class="t" style="left:180.89px;top:211px;font-size:5.85px;line-height:6px;color:#3a3a3a;letter-spacing:-0.146px;">400.000,00 €</div>
<div class="t" style="left:180.89px;top:191px;font-size:5.85px;line-height:6px;color:#3a3a3a;letter-spacing:-0.146px;">450.000,00 €</div>
<div class="t" style="left:180.89px;top:171px;font-size:5.85px;line-height:6px;color:#3a3a3a;letter-spacing:-0.146px;">500.000,00 €</div>
<div class="t" style="left:180.89px;top:151px;font-size:5.85px;line-height:6px;color:#3a3a3a;letter-spacing:-0.146px;">550.000,00 €</div>
<div class="t" style="left:205.21px;top:391.85px;font-size:5.95px;color:#222;-webkit-text-stroke:0.12px #222;transform:rotate(-90deg);transform-origin:50% 48.9%;">01/07/2018</div>
<div class="t" style="left:213.77px;top:391.85px;font-size:5.95px;color:#222;-webkit-text-stroke:0.12px #222;transform:rotate(-90deg);transform-origin:50% 48.9%;">05/07/2018</div>
<div class="t" style="left:222.33px;top:391.85px;font-size:5.95px;color:#222;-webkit-text-stroke:0.12px #222;transform:rotate(-90deg);transform-origin:50% 48.9%;">09/07/2018</div>
<div class="t" style="left:230.88px;top:391.85px;font-size:5.95px;color:#222;-webkit-text-stroke:0.12px #222;transform:rotate(-90deg);transform-origin:50% 48.9%;">13/07/2018</div>
<div class="t" style="left:239.44px;top:391.85px;font-size:5.95px;color:#222;-webkit-text-stroke:0.12px #222;transform:rotate(-90deg);transform-origin:50% 48.9%;">17/07/2018</div>
<div class="t" style="left:248.00px;top:391.85px;font-size:5.95px;color:#222;-webkit-text-stroke:0.12px #222;transform:rotate(-90deg);transform-origin:50% 48.9%;">21/07/2018</div>
<div class="t" style="left:256.56px;top:391.85px;font-size:5.95px;color:#222;-webkit-text-stroke:0.12px #222;transform:rotate(-90deg);transform-origin:50% 48.9%;">25/07/2018</div>
<div class="t" style="left:265.12px;top:391.85px;font-size:5.95px;color:#222;-webkit-text-stroke:0.12px #222;transform:rotate(-90deg);transform-origin:50% 48.9%;">29/07/2018</div>
<div class="t" style="left:273.67px;top:391.85px;font-size:5.95px;color:#222;-webkit-text-stroke:0.12px #222;transform:rotate(-90deg);transform-origin:50% 48.9%;">02/08/2018</div>
<div class="t" style="left:282.23px;top:391.85px;font-size:5.95px;color:#222;-webkit-text-stroke:0.12px #222;transform:rotate(-90deg);transform-origin:50% 48.9%;">06/08/2018</div>
<div class="t" style="left:290.79px;top:391.85px;font-size:5.95px;color:#222;-webkit-text-stroke:0.12px #222;transform:rotate(-90deg);transform-origin:50% 48.9%;">10/08/2018</div>
<div class="t" style="left:299.35px;top:391.85px;font-size:5.95px;color:#222;-webkit-text-stroke:0.12px #222;transform:rotate(-90deg);transform-origin:50% 48.9%;">14/08/2018</div>
<div class="t" style="left:307.91px;top:391.85px;font-size:5.95px;color:#222;-webkit-text-stroke:0.12px #222;transform:rotate(-90deg);transform-origin:50% 48.9%;">18/08/2018</div>
<div class="t" style="left:316.46px;top:391.85px;font-size:5.95px;color:#222;-webkit-text-stroke:0.12px #222;transform:rotate(-90deg);transform-origin:50% 48.9%;">22/08/2018</div>
<div class="t" style="left:325.02px;top:391.85px;font-size:5.95px;color:#222;-webkit-text-stroke:0.12px #222;transform:rotate(-90deg);transform-origin:50% 48.9%;">26/08/2018</div>
<div class="t" style="left:333.58px;top:391.85px;font-size:5.95px;color:#222;-webkit-text-stroke:0.12px #222;transform:rotate(-90deg);transform-origin:50% 48.9%;">30/08/2018</div>
<div class="t" style="left:342.14px;top:391.85px;font-size:5.95px;color:#222;-webkit-text-stroke:0.12px #222;transform:rotate(-90deg);transform-origin:50% 48.9%;">03/09/2018</div>
<div class="t" style="left:350.70px;top:391.85px;font-size:5.95px;color:#222;-webkit-text-stroke:0.12px #222;transform:rotate(-90deg);transform-origin:50% 48.9%;">07/09/2018</div>
<div class="t" style="left:359.47px;top:391.85px;font-size:5.95px;color:#222;-webkit-text-stroke:0.12px #222;transform:rotate(-90deg);transform-origin:50% 48.9%;">11/09/2018</div>
<div class="t" style="left:367.81px;top:391.85px;font-size:5.95px;color:#222;-webkit-text-stroke:0.12px #222;transform:rotate(-90deg);transform-origin:50% 48.9%;">15/09/2018</div>
<div class="t" style="left:376.37px;top:391.85px;font-size:5.95px;color:#222;-webkit-text-stroke:0.12px #222;transform:rotate(-90deg);transform-origin:50% 48.9%;">19/09/2018</div>
<div class="t" style="left:384.93px;top:391.85px;font-size:5.95px;color:#222;-webkit-text-stroke:0.12px #222;transform:rotate(-90deg);transform-origin:50% 48.9%;">23/09/2018</div>
<div class="t" style="left:393.49px;top:391.85px;font-size:5.95px;color:#222;-webkit-text-stroke:0.12px #222;transform:rotate(-90deg);transform-origin:50% 48.9%;">27/09/2018</div>
<div class="t" style="left:402.04px;top:391.85px;font-size:5.95px;color:#222;-webkit-text-stroke:0.12px #222;transform:rotate(-90deg);transform-origin:50% 48.9%;">01/10/2018</div>
<div class="t" style="left:410.60px;top:391.85px;font-size:5.95px;color:#222;-webkit-text-stroke:0.12px #222;transform:rotate(-90deg);transform-origin:50% 48.9%;">05/10/2018</div>
<div class="t" style="left:419.16px;top:391.85px;font-size:5.95px;color:#222;-webkit-text-stroke:0.12px #222;transform:rotate(-90deg);transform-origin:50% 48.9%;">09/10/2018</div>
<div class="t" style="left:427.72px;top:391.85px;font-size:5.95px;color:#222;-webkit-text-stroke:0.12px #222;transform:rotate(-90deg);transform-origin:50% 48.9%;">13/10/2018</div>
<div class="t" style="left:436.28px;top:391.85px;font-size:5.95px;color:#222;-webkit-text-stroke:0.12px #222;transform:rotate(-90deg);transform-origin:50% 48.9%;">17/10/2018</div>
<div class="t" style="left:444.83px;top:391.85px;font-size:5.95px;color:#222;-webkit-text-stroke:0.12px #222;transform:rotate(-90deg);transform-origin:50% 48.9%;">21/10/2018</div>
<div class="t" style="left:453.39px;top:391.85px;font-size:5.95px;color:#222;-webkit-text-stroke:0.12px #222;transform:rotate(-90deg);transform-origin:50% 48.9%;">25/10/2018</div>
<div class="t" style="left:461.95px;top:391.85px;font-size:5.95px;color:#222;-webkit-text-stroke:0.12px #222;transform:rotate(-90deg);transform-origin:50% 48.9%;">29/10/2018</div>
<div class="t" style="left:470.73px;top:391.85px;font-size:5.95px;color:#222;-webkit-text-stroke:0.12px #222;transform:rotate(-90deg);transform-origin:50% 48.9%;">02/11/2018</div>
<div class="t" style="left:479.29px;top:391.85px;font-size:5.95px;color:#222;-webkit-text-stroke:0.12px #222;transform:rotate(-90deg);transform-origin:50% 48.9%;">06/11/2018</div>
<div class="t" style="left:487.84px;top:391.85px;font-size:5.95px;color:#222;-webkit-text-stroke:0.12px #222;transform:rotate(-90deg);transform-origin:50% 48.9%;">10/11/2018</div>
<div class="t" style="left:496.40px;top:391.85px;font-size:5.95px;color:#222;-webkit-text-stroke:0.12px #222;transform:rotate(-90deg);transform-origin:50% 48.9%;">14/11/2018</div>
<div class="t" style="left:504.96px;top:391.85px;font-size:5.95px;color:#222;-webkit-text-stroke:0.12px #222;transform:rotate(-90deg);transform-origin:50% 48.9%;">18/11/2018</div>
<div class="t" style="left:513.52px;top:391.85px;font-size:5.95px;color:#222;-webkit-text-stroke:0.12px #222;transform:rotate(-90deg);transform-origin:50% 48.9%;">22/11/2018</div>
<div class="t" style="left:522.08px;top:391.85px;font-size:5.95px;color:#222;-webkit-text-stroke:0.12px #222;transform:rotate(-90deg);transform-origin:50% 48.9%;">26/11/2018</div>
<div class="t" style="left:530.63px;top:391.85px;font-size:5.95px;color:#222;-webkit-text-stroke:0.12px #222;transform:rotate(-90deg);transform-origin:50% 48.9%;">30/11/2018</div>
<div class="t" style="left:538.97px;top:391.85px;font-size:5.95px;color:#222;-webkit-text-stroke:0.12px #222;transform:rotate(-90deg);transform-origin:50% 48.9%;">04/12/2018</div>
<div class="t" style="left:547.53px;top:391.85px;font-size:5.95px;color:#222;-webkit-text-stroke:0.12px #222;transform:rotate(-90deg);transform-origin:50% 48.9%;">08/12/2018</div>
<div class="t" style="left:556.09px;top:391.85px;font-size:5.95px;color:#222;-webkit-text-stroke:0.12px #222;transform:rotate(-90deg);transform-origin:50% 48.9%;">12/12/2018</div>
<div class="t" style="left:564.65px;top:391.85px;font-size:5.95px;color:#222;-webkit-text-stroke:0.12px #222;transform:rotate(-90deg);transform-origin:50% 48.9%;">16/12/2018</div>
<div class="t" style="left:573.20px;top:391.85px;font-size:5.95px;color:#222;-webkit-text-stroke:0.12px #222;transform:rotate(-90deg);transform-origin:50% 48.9%;">20/12/2018</div>
<div class="t" style="left:581.76px;top:391.85px;font-size:5.95px;color:#222;-webkit-text-stroke:0.12px #222;transform:rotate(-90deg);transform-origin:50% 48.9%;">24/12/2018</div>
<div class="t" style="left:590.32px;top:391.85px;font-size:5.95px;color:#222;-webkit-text-stroke:0.12px #222;transform:rotate(-90deg);transform-origin:50% 48.9%;">28/12/2018</div>
<div class="t" style="left:598.88px;top:391.85px;font-size:5.95px;color:#222;-webkit-text-stroke:0.12px #222;transform:rotate(-90deg);transform-origin:50% 48.9%;">01/01/2019</div>
<div class="t" style="left:607.44px;top:391.85px;font-size:5.95px;color:#222;-webkit-text-stroke:0.12px #222;transform:rotate(-90deg);transform-origin:50% 48.9%;">05/01/2019</div>
<div class="t" style="left:615.99px;top:391.85px;font-size:5.95px;color:#222;-webkit-text-stroke:0.12px #222;transform:rotate(-90deg);transform-origin:50% 48.9%;">09/01/2019</div>
<div class="t" style="left:624.55px;top:391.85px;font-size:5.95px;color:#222;-webkit-text-stroke:0.12px #222;transform:rotate(-90deg);transform-origin:50% 48.9%;">13/01/2019</div>
<div class="t" style="left:633.11px;top:391.85px;font-size:5.95px;color:#222;-webkit-text-stroke:0.12px #222;transform:rotate(-90deg);transform-origin:50% 48.9%;">17/01/2019</div>
<div class="t" style="left:641.67px;top:391.85px;font-size:5.95px;color:#222;-webkit-text-stroke:0.12px #222;transform:rotate(-90deg);transform-origin:50% 48.9%;">21/01/2019</div>
<div class="t" style="left:650.22px;top:391.85px;font-size:5.95px;color:#222;-webkit-text-stroke:0.12px #222;transform:rotate(-90deg);transform-origin:50% 48.9%;">25/01/2019</div>
<div class="t" style="left:658.78px;top:391.85px;font-size:5.95px;color:#222;-webkit-text-stroke:0.12px #222;transform:rotate(-90deg);transform-origin:50% 48.9%;">29/01/2019</div>
<div class="t" style="left:667.34px;top:391.85px;font-size:5.95px;color:#222;-webkit-text-stroke:0.12px #222;transform:rotate(-90deg);transform-origin:50% 48.9%;">02/02/2019</div>
<div class="t" style="left:675.90px;top:391.85px;font-size:5.95px;color:#222;-webkit-text-stroke:0.12px #222;transform:rotate(-90deg);transform-origin:50% 48.9%;">06/02/2019</div>
<div class="t" style="left:684.46px;top:391.85px;font-size:5.95px;color:#222;-webkit-text-stroke:0.12px #222;transform:rotate(-90deg);transform-origin:50% 48.9%;">10/02/2019</div>
<div class="t" style="left:693.01px;top:391.85px;font-size:5.95px;color:#222;-webkit-text-stroke:0.12px #222;transform:rotate(-90deg);transform-origin:50% 48.9%;">14/02/2019</div>
<div class="t" style="left:701.57px;top:391.85px;font-size:5.95px;color:#222;-webkit-text-stroke:0.12px #222;transform:rotate(-90deg);transform-origin:50% 48.9%;">18/02/2019</div>
<div class="t" style="left:710.13px;top:391.85px;font-size:5.95px;color:#222;-webkit-text-stroke:0.12px #222;transform:rotate(-90deg);transform-origin:50% 48.9%;">22/02/2019</div>
<div class="t" style="left:718.69px;top:391.85px;font-size:5.95px;color:#222;-webkit-text-stroke:0.12px #222;transform:rotate(-90deg);transform-origin:50% 48.9%;">26/02/2019</div>
<div class="t" style="left:727.25px;top:391.85px;font-size:5.95px;color:#222;-webkit-text-stroke:0.12px #222;transform:rotate(-90deg);transform-origin:50% 48.9%;">02/03/2019</div>
<div class="t" style="left:735.80px;top:391.85px;font-size:5.95px;color:#222;-webkit-text-stroke:0.12px #222;transform:rotate(-90deg);transform-origin:50% 48.9%;">06/03/2019</div>
<div class="t" style="left:744.36px;top:391.85px;font-size:5.95px;color:#222;-webkit-text-stroke:0.12px #222;transform:rotate(-90deg);transform-origin:50% 48.9%;">10/03/2019</div>
<div class="t" style="left:752.92px;top:391.85px;font-size:5.95px;color:#222;-webkit-text-stroke:0.12px #222;transform:rotate(-90deg);transform-origin:50% 48.9%;">14/03/2019</div>
<div class="t" style="left:761.48px;top:391.85px;font-size:5.95px;color:#222;-webkit-text-stroke:0.12px #222;transform:rotate(-90deg);transform-origin:50% 48.9%;">18/03/2019</div>
<div class="t" style="left:770.04px;top:391.85px;font-size:5.95px;color:#222;-webkit-text-stroke:0.12px #222;transform:rotate(-90deg);transform-origin:50% 48.9%;">22/03/2019</div>
<div class="t" style="left:778.59px;top:391.85px;font-size:5.95px;color:#222;-webkit-text-stroke:0.12px #222;transform:rotate(-90deg);transform-origin:50% 48.9%;">26/03/2019</div>
<div class="t" style="left:787.15px;top:391.85px;font-size:5.95px;color:#222;-webkit-text-stroke:0.12px #222;transform:rotate(-90deg);transform-origin:50% 48.9%;">30/03/2019</div>
<div class="t" style="left:795.71px;top:391.85px;font-size:5.95px;color:#222;-webkit-text-stroke:0.12px #222;transform:rotate(-90deg);transform-origin:50% 48.9%;">03/04/2019</div>
<svg class="r i" style="left:3.20px;top:1.90px" width="8.4" height="9" viewBox="0 0 9 10"><rect x="0.5" y="0.8" width="8" height="8.4" rx="1" fill="#eaf2fb" stroke="#6f9bd2" stroke-width="0.8"/><path d="M6.5 2.3L2.6 5l3.9 2.7" stroke="#3f78c4" stroke-width="0.9" fill="none"/><circle cx="2.6" cy="5" r="0.8" fill="#3f78c4"/><circle cx="6.5" cy="2.4" r="0.7" fill="#3f78c4"/><circle cx="6.5" cy="7.6" r="0.7" fill="#3f78c4"/></svg>
<svg class="r" style="left:786px;top:2px" width="47" height="11" viewBox="786 2 47 11"><rect x="790.8" y="7" width="6.6" height="2.4" rx="1" fill="#eef3fa" stroke="#8c9fbd" stroke-width="0.6"/><rect x="807.3" y="4" width="6.8" height="5.8" rx="0.8" fill="#eef3fa" stroke="#8c9fbd" stroke-width="0.6"/><rect x="809.3" y="5.8" width="2.8" height="2.2" fill="#c3d3ea" stroke="#8c9fbd" stroke-width="0.4"/><path d="M824.8 4.3l5.4 5.4M830.2 4.3l-5.4 5.4" stroke="#8c9fbd" stroke-width="2.2"/><path d="M824.8 4.3l5.4 5.4M830.2 4.3l-5.4 5.4" stroke="#f1f5fb" stroke-width="1.1"/></svg>
<svg class="r i" style="left:731.60px;top:17.30px" width="6" height="5" viewBox="0 0 7 6"><path d="M1 3a2.5 2.5 0 0 1 5 0" stroke="#6a86b4" stroke-width="0.9" fill="none"/><rect x="0.4" y="2.8" width="1.6" height="2.6" rx="0.5" fill="#5a78aa"/><rect x="5" y="2.8" width="1.6" height="2.6" rx="0.5" fill="#5a78aa"/></svg>
<svg class="r i" style="left:5.90px;top:29.50px" width="10" height="10" viewBox="0 0 10 10"><circle cx="5" cy="5" r="4" fill="#f7f9fc" stroke="#3a3f4a" stroke-width="0.85"/><path d="M4.1 3.2L6.1 5 4.1 6.8" stroke="#2a2f3a" stroke-width="0.9" fill="none"/></svg>
<svg class="r i" style="left:45.80px;top:30.00px" width="7" height="9" viewBox="0 0 7 9"><path d="M0.6 0.6h4l1.8 1.8v6h-5.8z" fill="#fbfcfe" stroke="#b9c4d6" stroke-width="0.6"/><path d="M4.6 0.6v1.8h1.8" fill="#e3e9f2" stroke="#b9c4d6" stroke-width="0.5"/></svg>
<svg class="r i" style="left:78.90px;top:31.40px" width="8.8" height="7" viewBox="0 0 10 8"><path d="M0.6 7.2V1.6h3l0.9 1h4.2v1" fill="#f4dca0" stroke="#d0a654" stroke-width="0.6"/><path d="M0.6 7.4l1.5-3.8h7.3L8 7.4z" fill="#f1c878" stroke="#d0a654" stroke-width="0.6"/><circle cx="5.8" cy="4.8" r="1.6" fill="#fbf0d0"/></svg>
<svg class="r i" style="left:92.90px;top:30.50px" width="8.2" height="8" viewBox="0 0 9 9"><rect x="0.6" y="0.6" width="7.8" height="7.8" rx="0.8" fill="#2c3fae" stroke="#1a2575" stroke-width="0.5"/><rect x="2" y="0.8" width="5" height="3" fill="#e9edf8"/><rect x="2.4" y="5.2" width="4.2" height="3" fill="#8b97d8"/><rect x="5" y="1.1" width="1.2" height="2" fill="#2c3fae"/></svg>
<svg class="r i" style="left:106.50px;top:30.50px" width="8.8" height="8" viewBox="0 0 10 9"><path d="M3 0.8h6.2v5.6H3z" fill="#6a70c0" stroke="#2a3388" stroke-width="0.5"/><path d="M0.8 3h6.4v5.4H0.8z" fill="#3444b4" stroke="#1f297c" stroke-width="0.5"/><rect x="2" y="3.2" width="3.8" height="2" fill="#e9edf8"/><path d="M7.4 1.6l1.6 0.8-3.4 4" stroke="#dfe4f6" stroke-width="0.8" fill="none"/></svg>
<svg class="r i" style="left:119.00px;top:29.50px" width="10" height="10" viewBox="-5 -5 10 10"><path d="M-2.3 -2.4A3.3 3.3 0 1 0 2.3 -2.4" stroke="#2e8a2e" stroke-width="2" fill="none"/><path d="M-2.2 -2.2A3.1 3.1 0 1 0 2.2 -2.2" stroke="#5fbf55" stroke-width="0.8" fill="none"/><path d="M0.6 -4.6L4.2 -2.6 1 -0.8z" fill="#2e8a2e"/></svg>
<div class="r" style="left:132.20px;top:29.50px;width:0.70px;height:10.00px;background:#ccd8ea;"></div>
<svg class="r i" style="left:137.70px;top:30.00px" width="10" height="9" viewBox="0 0 10 9"><rect x="0.5" y="0.5" width="9" height="8" rx="1" fill="#dfe9f8" stroke="#9fb6da" stroke-width="0.5"/><path d="M1.3 8V5.2l1.8-3 1.6 2.6 1.5-1.6 2.3 4.8z" fill="#2f6fd8"/><rect x="1.3" y="7.2" width="7.4" height="1" fill="#2454a8"/></svg>
<svg class="r i" style="left:153.40px;top:28.30px" width="11" height="12" viewBox="0 0 10.4 12"><rect x="1" y="2" width="8" height="8.4" rx="1" fill="#f1ece8" opacity="0.7"/><rect x="4.3" y="0.8" width="1.5" height="10.4" fill="#d8562a"/><rect x="1.4" y="2.2" width="7.6" height="1.3" fill="#e07038"/><circle cx="5" cy="1.6" r="1.3" fill="#cc4a2a"/><path d="M3 11.4l2-3 2 3z" fill="#e8956a"/><rect x="7.8" y="3.4" width="0.7" height="3.6" fill="#8a8a8a"/><rect x="2" y="3.4" width="0.7" height="2.4" fill="#9a9a9a"/></svg>
<div class="r" style="left:167.00px;top:29.50px;width:0.70px;height:10.00px;background:#ccd8ea;"></div>
<svg class="r i" style="left:170.70px;top:30.00px" width="10" height="9" viewBox="0 0 10 9"><path d="M1.6 0.8L7.4 6.4M8.4 0.8L2.6 6.4" stroke="#2b2b2b" stroke-width="1.1"/><circle cx="2.2" cy="7" r="1.3" fill="none" stroke="#2b2b2b" stroke-width="0.9"/><circle cx="7.8" cy="7" r="1.3" fill="none" stroke="#2b2b2b" stroke-width="0.9"/></svg>
<svg class="r i" style="left:184.80px;top:30.00px" width="10" height="9" viewBox="0 0 10 9"><rect x="0.8" y="4" width="2.4" height="4.2" fill="#d8743a"/><rect x="3.6" y="1.2" width="2.6" height="7" fill="#3f6fd0"/><rect x="6.6" y="3" width="2.4" height="5.2" fill="#6b8fe0"/><rect x="0.4" y="8" width="9.2" height="0.8" fill="#8a96b0"/></svg>
<svg class="r i" style="left:198.70px;top:31.30px" width="9.4" height="7" viewBox="0 0 10 8"><rect x="0.6" y="0.8" width="8.8" height="6.4" fill="#f4f7fc" stroke="#a9b5ca" stroke-width="0.6"/><rect x="0.6" y="0.8" width="8.8" height="1.4" fill="#cbd6e8"/></svg>
<svg class="r i" style="left:212.50px;top:30.00px" width="9" height="9" viewBox="0 0 9 9"><rect x="0.5" y="0.5" width="8" height="8" fill="#3c4656"/><rect x="1.3" y="1.3" width="3" height="3" fill="#7fb2a0"/><rect x="4.6" y="1.3" width="3.2" height="6.4" fill="#d9dee6"/><rect x="1.3" y="4.8" width="3" height="2.9" fill="#5e8fb8"/><circle cx="5.6" cy="5.6" r="1.5" fill="#e0c050"/></svg>
<div class="r" style="left:225.00px;top:29.50px;width:0.70px;height:10.00px;background:#ccd8ea;"></div>
<svg class="r i" style="left:230.00px;top:30.50px" width="8.6" height="7.4" viewBox="0 0 9.8 8.6"><rect x="0.6" y="0.8" width="8.6" height="7" fill="#8fbf7a" stroke="#4a8a55" stroke-width="1"/><rect x="1.4" y="1.8" width="3.4" height="2.6" fill="#4a8a55"/><rect x="5" y="1.6" width="3.2" height="3.4" fill="#c9e07a"/><rect x="1.6" y="5.2" width="6.6" height="1.4" fill="#eef5ea"/></svg>
<svg class="r i" style="left:243.00px;top:30.00px" width="9" height="9" viewBox="0 0 9 9"><rect x="0.6" y="1" width="8" height="6.2" fill="#cfd5df" stroke="#aab4c2" stroke-width="0.7"/><rect x="1.4" y="2" width="4" height="2.4" fill="#aab4c2"/><rect x="5" y="5" width="3.6" height="3" fill="#aab4c2"/></svg>
<svg class="r i" style="left:256.80px;top:30.00px" width="9" height="9" viewBox="0 0 9 9"><path d="M0.8 8h7.6V1.4L5.6 4 3.4 5.8 0.8 7z" fill="#bfc7d3"/><rect x="6" y="2.6" width="1.2" height="5.4" fill="#aab4c2"/><rect x="3.8" y="4.8" width="1.2" height="3.2" fill="#aab4c2"/></svg>
<svg class="r i" style="left:270.30px;top:30.00px" width="9" height="9" viewBox="0 0 9 9"><rect x="0.6" y="0.8" width="6.4" height="5" fill="#cfd5df" stroke="#aab4c2" stroke-width="0.7"/><rect x="2" y="2.6" width="6.4" height="5.4" fill="#bfc7d3" stroke="#aab4c2" stroke-width="0.7"/></svg>
<svg class="r i" style="left:283.80px;top:30.00px" width="9" height="9" viewBox="0 0 9 9"><rect x="0.6" y="1" width="8" height="6.2" fill="#cfd5df" stroke="#aab4c2" stroke-width="0.7"/><rect x="1.4" y="2" width="4" height="2.4" fill="#aab4c2"/><rect x="5" y="5" width="3.6" height="3" fill="#aab4c2"/></svg>
<svg class="r i" style="left:297.80px;top:30.00px" width="9" height="9" viewBox="0 0 9 9"><rect x="0.6" y="1" width="8" height="6.2" fill="#cfd5df" stroke="#aab4c2" stroke-width="0.7"/><rect x="1.4" y="2" width="4" height="2.4" fill="#aab4c2"/><rect x="5" y="5" width="3.6" height="3" fill="#aab4c2"/></svg>
<div class="r" style="left:310.00px;top:29.50px;width:0.70px;height:10.00px;background:#ccd8ea;"></div>
<svg class="r i" style="left:314.20px;top:29.50px" width="10" height="10" viewBox="0 0 9.5 9.5"><rect x="2.6" y="1.4" width="1.2" height="7.4" fill="#d86a28"/><rect x="0.8" y="1.2" width="6.4" height="1.2" fill="#e07b35"/><rect x="1.4" y="8" width="3.6" height="0.9" fill="#b85a20"/><circle cx="6.6" cy="6.2" r="2" fill="#e8b53a"/><circle cx="6.6" cy="6.2" r="0.9" fill="#c2452a"/></svg>
<svg class="r i" style="left:328.50px;top:30.00px" width="9" height="9" viewBox="0 0 9 9"><rect x="2.4" y="1.2" width="1.1" height="7" fill="#aab4c2"/><rect x="0.6" y="1" width="6.4" height="1.1" fill="#aab4c2"/><circle cx="6.6" cy="6.6" r="1.7" fill="#bfc7d3" stroke="#aab4c2" stroke-width="0.5"/></svg>
<svg class="r i" style="left:341.50px;top:30.00px" width="9" height="9" viewBox="0 0 9 9"><path d="M0.8 8h7.6V1.4L5.6 4 3.4 5.8 0.8 7z" fill="#bfc7d3"/><rect x="6" y="2.6" width="1.2" height="5.4" fill="#aab4c2"/><rect x="3.8" y="4.8" width="1.2" height="3.2" fill="#aab4c2"/></svg>
<svg class="r i" style="left:355.10px;top:30.00px" width="9" height="9" viewBox="0 0 9 9"><rect x="3.8" y="0.8" width="1.1" height="7.6" fill="#aab4c2"/><rect x="1" y="1.6" width="6.8" height="1.1" fill="#aab4c2"/><rect x="6.6" y="2.4" width="0.8" height="3" fill="#aab4c2"/><rect x="1.6" y="2.4" width="0.8" height="2.2" fill="#aab4c2"/></svg>
<svg class="r i" style="left:368.50px;top:30.00px" width="9" height="9" viewBox="0 0 9 9"><rect x="2.4" y="1.2" width="1.1" height="7" fill="#aab4c2"/><rect x="0.6" y="1" width="6.4" height="1.1" fill="#aab4c2"/><circle cx="6.6" cy="6.6" r="1.7" fill="#bfc7d3" stroke="#aab4c2" stroke-width="0.5"/></svg>
<div class="r" style="left:381.60px;top:29.50px;width:0.70px;height:10.00px;background:#ccd8ea;"></div>
<svg class="r i" style="left:386.10px;top:30.50px" width="8.6" height="7.4" viewBox="0 0 9.8 8.6"><rect x="0.6" y="0.8" width="8.6" height="7" fill="#e4f1ee" stroke="#3d8f86" stroke-width="1"/><rect x="1.4" y="1.8" width="3.4" height="2.6" fill="#3d8f86"/><rect x="5" y="1.6" width="3.2" height="3.4" fill="#8fcf4e"/><rect x="1.6" y="5.2" width="6.6" height="1.4" fill="#eef5ea"/></svg>
<svg class="r i" style="left:399.30px;top:30.00px" width="9" height="9" viewBox="0 0 9 9"><rect x="0.6" y="1" width="8" height="6.2" fill="#cfd5df" stroke="#aab4c2" stroke-width="0.7"/><rect x="1.4" y="2" width="4" height="2.4" fill="#aab4c2"/><rect x="5" y="5" width="3.6" height="3" fill="#aab4c2"/></svg>
<svg class="r i" style="left:412.50px;top:30.00px" width="9" height="9" viewBox="0 0 9 9"><path d="M0.8 8h7.6V1.4L5.6 4 3.4 5.8 0.8 7z" fill="#bfc7d3"/><rect x="6" y="2.6" width="1.2" height="5.4" fill="#aab4c2"/><rect x="3.8" y="4.8" width="1.2" height="3.2" fill="#aab4c2"/></svg>
<svg class="r i" style="left:426.30px;top:30.00px" width="9" height="9" viewBox="0 0 9 9"><rect x="0.6" y="0.8" width="6.4" height="5" fill="#cfd5df" stroke="#aab4c2" stroke-width="0.7"/><rect x="2" y="2.6" width="6.4" height="5.4" fill="#bfc7d3" stroke="#aab4c2" stroke-width="0.7"/></svg>
<svg class="r i" style="left:439.70px;top:30.00px" width="9" height="9" viewBox="0 0 9 9"><rect x="0.6" y="1" width="8" height="6.2" fill="#cfd5df" stroke="#aab4c2" stroke-width="0.7"/><rect x="1.4" y="2" width="4" height="2.4" fill="#aab4c2"/><rect x="5" y="5" width="3.6" height="3" fill="#aab4c2"/></svg>
<div class="r" style="left:452.80px;top:29.50px;width:0.70px;height:10.00px;background:#ccd8ea;"></div>
<svg class="r i" style="left:457.70px;top:30.50px" width="8.6" height="7.4" viewBox="0 0 9.8 8.6"><rect x="0.6" y="0.8" width="8.6" height="7" fill="#4fa0e0" stroke="#2f78c8" stroke-width="1"/><rect x="1.4" y="1.8" width="3.4" height="2.6" fill="#2f78c8"/><rect x="5" y="1.6" width="3.2" height="3.4" fill="#7ed070"/><rect x="1.6" y="5.2" width="6.6" height="1.4" fill="#eef5ea"/></svg>
<svg class="r i" style="left:471.10px;top:30.00px" width="9" height="9" viewBox="0 0 9 9"><rect x="0.6" y="1" width="8" height="6.2" fill="#cfd5df" stroke="#aab4c2" stroke-width="0.7"/><rect x="1.4" y="2" width="4" height="2.4" fill="#aab4c2"/><rect x="5" y="5" width="3.6" height="3" fill="#aab4c2"/></svg>
<svg class="r i" style="left:484.50px;top:30.00px" width="9" height="9" viewBox="0 0 9 9"><rect x="0.6" y="1" width="8" height="6.2" fill="#cfd5df" stroke="#aab4c2" stroke-width="0.7"/><rect x="1.4" y="2" width="4" height="2.4" fill="#aab4c2"/><rect x="5" y="5" width="3.6" height="3" fill="#aab4c2"/></svg>
<div class="r" style="left:497.60px;top:29.50px;width:0.70px;height:10.00px;background:#ccd8ea;"></div>
<svg class="r i" style="left:501.30px;top:30.00px" width="10" height="9" viewBox="0 0 10 9"><rect x="0.8" y="2.6" width="8" height="5" rx="1" fill="#c6cdd8" stroke="#a9b3c2" stroke-width="0.6"/><rect x="3" y="1" width="3.4" height="2" fill="#b4bdca"/><circle cx="4.8" cy="5.2" r="1.7" fill="#e3e7ed" stroke="#a9b3c2" stroke-width="0.5"/><path d="M6.4 6.4l2.4 2" stroke="#9aa5b6" stroke-width="1"/></svg>
<div class="t" style="left:748.30px;top:31px;font-size:5.33px;line-height:6px;color:#1f2e5a;font-weight:bold;">my</div>
<svg class="r i" style="left:757.10px;top:30.10px" width="9" height="9" viewBox="0 0 9 9"><circle cx="4.5" cy="4.5" r="4" fill="#1f58a8"/><circle cx="4.5" cy="4.5" r="4" fill="none" stroke="#3f86d0" stroke-width="0.6"/><circle cx="3" cy="3.7" r="1" fill="#fff"/><circle cx="6" cy="3.7" r="1" fill="#fff"/><path d="M2.4 5.8c1.2 1.3 3 1.3 4.2 0" stroke="#fff" stroke-width="0.8" fill="none"/></svg>
<div class="t" style="left:767.50px;top:31px;font-size:6.90px;line-height:7px;color:#1f4a98;letter-spacing:0.631px;">blu</div>
<div class="t" style="left:779.20px;top:31px;font-size:6.90px;line-height:7px;color:#858fa1;letter-spacing:0.580px;">matica</div>
<svg class="r i" style="left:807.00px;top:30.00px" width="10" height="9" viewBox="0 0 10 9"><rect x="1" y="1.4" width="6.6" height="6.6" fill="#eef1f6" stroke="#a9b3c2" stroke-width="0.6"/><path d="M2.4 7.4l1.8-4.4 1.8 4.4" stroke="#555e70" stroke-width="0.8" fill="none"/><rect x="6.4" y="0.6" width="2.8" height="2.8" fill="#e0a050"/></svg>
<svg class="r i" style="left:821.40px;top:29.50px" width="8" height="10" viewBox="0 0 8 10"><rect x="1.2" y="2.6" width="5.6" height="6.6" fill="#d3d9e2" stroke="#b9c1ce" stroke-width="0.6"/><rect x="0.6" y="1.4" width="6.8" height="1.3" fill="#c3cad5"/><rect x="2.8" y="0.5" width="2.4" height="1" fill="#c3cad5"/></svg>
</div></body></html>
